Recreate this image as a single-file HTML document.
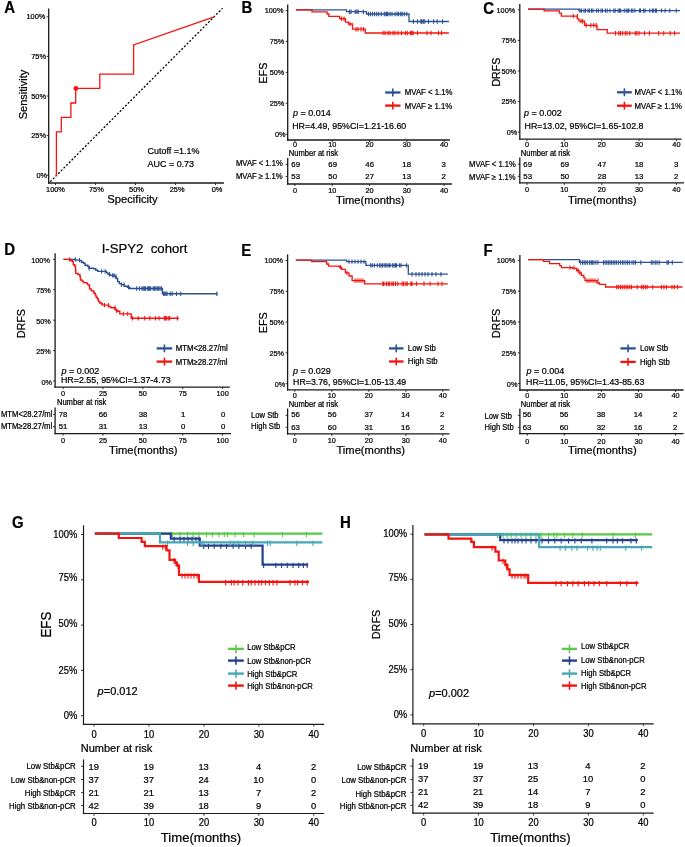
<!DOCTYPE html>
<html><head><meta charset="utf-8"><style>
html,body{margin:0;padding:0;background:#fff;width:685px;height:847px;overflow:hidden}
text{white-space:pre;stroke:#000;stroke-width:0.22px;paint-order:stroke}
svg{will-change:transform}
svg{display:block;font-family:"Liberation Sans",sans-serif}
</style></head><body>
<svg width="685" height="847" viewBox="0 0 685 847" font-family="Liberation Sans, sans-serif">
<rect width="685" height="847" fill="#fff"/>
<text transform="translate(4.30,12.57) scale(1,1.1)" font-size="15" text-anchor="start" font-weight="bold" fill="#000">A</text>
<line x1="48.70" y1="8.40" x2="48.70" y2="183.65" stroke="#1a1a1a" stroke-width="1.3"/>
<line x1="48.05" y1="183.00" x2="223.90" y2="183.00" stroke="#1a1a1a" stroke-width="1.3"/>
<line x1="46.70" y1="16.80" x2="48.70" y2="16.80" stroke="#1a1a1a" stroke-width="0.9"/>
<text transform="translate(45.40,19.37) scale(1,1.07)" font-size="7.4" text-anchor="end" fill="#000">100%</text>
<line x1="46.70" y1="56.40" x2="48.70" y2="56.40" stroke="#1a1a1a" stroke-width="0.9"/>
<text transform="translate(46.00,58.97) scale(1,1.07)" font-size="7.4" text-anchor="end" fill="#000">75%</text>
<line x1="46.70" y1="96.00" x2="48.70" y2="96.00" stroke="#1a1a1a" stroke-width="0.9"/>
<text transform="translate(46.00,98.57) scale(1,1.07)" font-size="7.4" text-anchor="end" fill="#000">50%</text>
<line x1="46.70" y1="135.60" x2="48.70" y2="135.60" stroke="#1a1a1a" stroke-width="0.9"/>
<text transform="translate(46.00,138.17) scale(1,1.07)" font-size="7.4" text-anchor="end" fill="#000">25%</text>
<line x1="46.70" y1="175.20" x2="48.70" y2="175.20" stroke="#1a1a1a" stroke-width="0.9"/>
<text transform="translate(47.20,177.77) scale(1,1.07)" font-size="7.4" text-anchor="end" fill="#000">0%</text>
<line x1="55.50" y1="183.00" x2="55.50" y2="185.00" stroke="#1a1a1a" stroke-width="0.9"/>
<text transform="translate(55.50,192.07) scale(1,1.07)" font-size="7.4" text-anchor="middle" fill="#000">100%</text>
<line x1="95.50" y1="183.00" x2="95.50" y2="185.00" stroke="#1a1a1a" stroke-width="0.9"/>
<text transform="translate(96.30,192.07) scale(1,1.07)" font-size="7.4" text-anchor="middle" fill="#000">75%</text>
<line x1="135.50" y1="183.00" x2="135.50" y2="185.00" stroke="#1a1a1a" stroke-width="0.9"/>
<text transform="translate(136.50,192.07) scale(1,1.07)" font-size="7.4" text-anchor="middle" fill="#000">50%</text>
<line x1="175.50" y1="183.00" x2="175.50" y2="185.00" stroke="#1a1a1a" stroke-width="0.9"/>
<text transform="translate(177.10,192.07) scale(1,1.07)" font-size="7.4" text-anchor="middle" fill="#000">25%</text>
<line x1="215.50" y1="183.00" x2="215.50" y2="185.00" stroke="#1a1a1a" stroke-width="0.9"/>
<text transform="translate(217.00,192.07) scale(1,1.07)" font-size="7.4" text-anchor="middle" fill="#000">0%</text>
<text transform="translate(132.50,203.22) scale(1,1.0)" font-size="11.2" text-anchor="middle" fill="#000">Specificity</text>
<text transform="translate(23.10,94.50) rotate(-90) scale(1,1.05)" x="0" y="3.85" font-size="11.0" text-anchor="middle" fill="#000">Sensitivity</text>
<line x1="50.2" y1="181.8" x2="222.5" y2="8.3" stroke="#000" stroke-width="1.3" stroke-dasharray="2 1.8"/>
<path d="M56.4,176 V131.9 H61.3 V117.3 H70.9 V103 H75.7 V88.4 H99.8 V74.2 H133.6 V45 L214.8,16.7" fill="none" stroke="#F2140F" stroke-width="1.3"/>
<circle cx="75.9" cy="88.5" r="2.4" fill="#F2140F"/>
<text transform="translate(147.60,154.15) scale(1,1.07)" font-size="8.95" text-anchor="start" fill="#000">Cutoff =1.1%</text>
<text transform="translate(147.60,167.15) scale(1,1.07)" font-size="8.95" text-anchor="start" fill="#000">AUC = 0.73</text>
<text transform="translate(241.40,12.78) scale(1,1.1)" font-size="15" text-anchor="start" font-weight="bold" fill="#000">B</text>
<line x1="287.70" y1="4.40" x2="287.70" y2="140.65" stroke="#1a1a1a" stroke-width="1.3"/>
<line x1="287.05" y1="140.00" x2="449.90" y2="140.00" stroke="#1a1a1a" stroke-width="1.3"/>
<line x1="285.70" y1="10.50" x2="287.70" y2="10.50" stroke="#1a1a1a" stroke-width="0.9"/>
<text transform="translate(283.40,13.43) scale(1,1.07)" font-size="7.3" text-anchor="end" fill="#000">100%</text>
<line x1="285.70" y1="41.42" x2="287.70" y2="41.42" stroke="#1a1a1a" stroke-width="0.9"/>
<text transform="translate(284.30,44.36) scale(1,1.07)" font-size="7.3" text-anchor="end" fill="#000">75%</text>
<line x1="285.70" y1="72.35" x2="287.70" y2="72.35" stroke="#1a1a1a" stroke-width="0.9"/>
<text transform="translate(284.30,75.28) scale(1,1.07)" font-size="7.3" text-anchor="end" fill="#000">50%</text>
<line x1="285.70" y1="103.27" x2="287.70" y2="103.27" stroke="#1a1a1a" stroke-width="0.9"/>
<text transform="translate(284.30,106.21) scale(1,1.07)" font-size="7.3" text-anchor="end" fill="#000">25%</text>
<line x1="285.70" y1="134.20" x2="287.70" y2="134.20" stroke="#1a1a1a" stroke-width="0.9"/>
<text transform="translate(285.50,137.13) scale(1,1.07)" font-size="7.3" text-anchor="end" fill="#000">0%</text>
<line x1="294.90" y1="140.00" x2="294.90" y2="142.00" stroke="#1a1a1a" stroke-width="0.9"/>
<text transform="translate(294.90,147.03) scale(1,1.07)" font-size="7.3" text-anchor="middle" fill="#000">0</text>
<line x1="332.20" y1="140.00" x2="332.20" y2="142.00" stroke="#1a1a1a" stroke-width="0.9"/>
<text transform="translate(332.20,147.03) scale(1,1.07)" font-size="7.3" text-anchor="middle" fill="#000">10</text>
<line x1="369.50" y1="140.00" x2="369.50" y2="142.00" stroke="#1a1a1a" stroke-width="0.9"/>
<text transform="translate(369.50,147.03) scale(1,1.07)" font-size="7.3" text-anchor="middle" fill="#000">20</text>
<line x1="406.80" y1="140.00" x2="406.80" y2="142.00" stroke="#1a1a1a" stroke-width="0.9"/>
<text transform="translate(406.80,147.03) scale(1,1.07)" font-size="7.3" text-anchor="middle" fill="#000">30</text>
<line x1="444.10" y1="140.00" x2="444.10" y2="142.00" stroke="#1a1a1a" stroke-width="0.9"/>
<text transform="translate(444.10,147.03) scale(1,1.07)" font-size="7.3" text-anchor="middle" fill="#000">40</text>
<text transform="translate(263.20,73.15) rotate(-90) scale(1,1.08)" x="0" y="3.78" font-size="10.8" text-anchor="middle" fill="#000">EFS</text>
<path d="M295.90,9.85 H346.60 V11.70 H366.50 V14.00 H409.00 V21.50 H448.90" fill="none" stroke="#2B5194" stroke-width="1.3" stroke-linejoin="miter" stroke-linecap="butt"/>
<path d="M349.60,9.50v4.40M351.10,9.50v4.40M355.20,9.50v4.40M356.80,9.50v4.40M358.30,9.50v4.40M363.40,9.50v4.40" stroke="#2B5194" stroke-width="1.1" fill="none"/>
<path d="M368.50,11.80v4.40M370.50,11.80v4.40M372.60,11.80v4.40M374.60,11.80v4.40M376.70,11.80v4.40M378.70,11.80v4.40M381.30,11.80v4.40M384.30,11.80v4.40M385.90,11.80v4.40M386.90,11.80v4.40M387.90,11.80v4.40M390.00,11.80v4.40M392.00,11.80v4.40M395.10,11.80v4.40M397.10,11.80v4.40M398.60,11.80v4.40M400.70,11.80v4.40M402.20,11.80v4.40M404.30,11.80v4.40M406.80,11.80v4.40" stroke="#2B5194" stroke-width="1.1" fill="none"/>
<path d="M413.40,19.30v4.40M417.50,19.30v4.40M420.80,19.30v4.40M421.90,19.30v4.40M423.40,19.30v4.40M424.80,19.30v4.40M428.50,19.30v4.40M433.60,19.30v4.40M437.20,19.30v4.40M442.50,19.30v4.40" stroke="#2B5194" stroke-width="1.1" fill="none"/>
<path d="M295.90,9.85 H312.00 V11.90 H327.10 V14.00 H328.90 V16.40 H339.60 V18.70 H345.50 V22.20 H348.40 V24.00 H352.50 V29.20 H365.30 V33.00 H448.90" fill="none" stroke="#F2140F" stroke-width="1.3" stroke-linejoin="miter" stroke-linecap="butt"/>
<path d="M341.50,16.50v4.40M344.00,16.50v4.40" stroke="#F2140F" stroke-width="1.1" fill="none"/>
<path d="M350.00,21.80v4.40" stroke="#F2140F" stroke-width="1.1" fill="none"/>
<path d="M356.00,27.00v4.40M358.00,27.00v4.40M361.00,27.00v4.40M363.50,27.00v4.40" stroke="#F2140F" stroke-width="1.1" fill="none"/>
<path d="M383.00,30.80v4.40M385.00,30.80v4.40M388.00,30.80v4.40M390.00,30.80v4.40M393.00,30.80v4.40M395.00,30.80v4.40M398.00,30.80v4.40M401.50,30.80v4.40M405.30,30.80v4.40M407.30,30.80v4.40M410.60,30.80v4.40M411.70,30.80v4.40M413.10,30.80v4.40M417.50,30.80v4.40M427.00,30.80v4.40M431.00,30.80v4.40M438.50,30.80v4.40M441.50,30.80v4.40" stroke="#F2140F" stroke-width="1.1" fill="none"/>
<line x1="385.10" y1="92.50" x2="400.50" y2="92.50" stroke="#2B5194" stroke-width="2.3"/>
<line x1="392.80" y1="88.60" x2="392.80" y2="96.40" stroke="#2B5194" stroke-width="1.6"/>
<text transform="translate(404.80,95.42) scale(1,1.07)" font-size="7.8" text-anchor="start" fill="#000">MVAF &lt; 1.1%</text>
<line x1="385.10" y1="105.60" x2="400.50" y2="105.60" stroke="#F2140F" stroke-width="2.3"/>
<line x1="392.80" y1="101.70" x2="392.80" y2="109.50" stroke="#F2140F" stroke-width="1.6"/>
<text transform="translate(404.80,108.52) scale(1,1.07)" font-size="7.8" text-anchor="start" fill="#000">MVAF ≥ 1.1%</text>
<text transform="translate(293.00,116.27) scale(1,1.07)" font-size="9.0"><tspan font-style="italic">p</tspan> = 0.014</text>
<text transform="translate(292.20,128.71) scale(1,1.07)" font-size="8.85" text-anchor="start" fill="#000">HR=4.49, 95%CI=1.21-16.60</text>
<text transform="translate(288.80,156.15) scale(1,1.07)" font-size="7.6" text-anchor="start" fill="#000">Number at risk</text>
<line x1="287.70" y1="158.10" x2="287.70" y2="184.65" stroke="#1a1a1a" stroke-width="1.3"/>
<line x1="287.05" y1="184.00" x2="451.90" y2="184.00" stroke="#1a1a1a" stroke-width="1.3"/>
<line x1="285.70" y1="164.40" x2="287.70" y2="164.40" stroke="#1a1a1a" stroke-width="0.9"/>
<text transform="translate(236.00,166.26) scale(1,1.07)" font-size="7.65" text-anchor="start" fill="#000">MVAF &lt; 1.1%</text>
<text transform="translate(295.70,167.23) scale(1,1.0)" font-size="7.8" text-anchor="middle" fill="#000">69</text>
<text transform="translate(332.70,167.23) scale(1,1.0)" font-size="7.8" text-anchor="middle" fill="#000">69</text>
<text transform="translate(369.70,167.23) scale(1,1.0)" font-size="7.8" text-anchor="middle" fill="#000">46</text>
<text transform="translate(406.70,167.23) scale(1,1.0)" font-size="7.8" text-anchor="middle" fill="#000">18</text>
<text transform="translate(443.70,167.23) scale(1,1.0)" font-size="7.8" text-anchor="middle" fill="#000">3</text>
<line x1="285.70" y1="176.50" x2="287.70" y2="176.50" stroke="#1a1a1a" stroke-width="0.9"/>
<text transform="translate(236.00,178.96) scale(1,1.07)" font-size="7.65" text-anchor="start" fill="#000">MVAF ≥ 1.1%</text>
<text transform="translate(295.70,179.33) scale(1,1.0)" font-size="7.8" text-anchor="middle" fill="#000">53</text>
<text transform="translate(332.70,179.33) scale(1,1.0)" font-size="7.8" text-anchor="middle" fill="#000">50</text>
<text transform="translate(369.70,179.33) scale(1,1.0)" font-size="7.8" text-anchor="middle" fill="#000">27</text>
<text transform="translate(406.70,179.33) scale(1,1.0)" font-size="7.8" text-anchor="middle" fill="#000">13</text>
<text transform="translate(443.70,179.33) scale(1,1.0)" font-size="7.8" text-anchor="middle" fill="#000">2</text>
<line x1="294.90" y1="184.00" x2="294.90" y2="186.00" stroke="#1a1a1a" stroke-width="0.9"/>
<text transform="translate(294.90,193.33) scale(1,1.07)" font-size="7.3" text-anchor="middle" fill="#000">0</text>
<line x1="332.20" y1="184.00" x2="332.20" y2="186.00" stroke="#1a1a1a" stroke-width="0.9"/>
<text transform="translate(332.20,193.33) scale(1,1.07)" font-size="7.3" text-anchor="middle" fill="#000">10</text>
<line x1="369.50" y1="184.00" x2="369.50" y2="186.00" stroke="#1a1a1a" stroke-width="0.9"/>
<text transform="translate(369.50,193.33) scale(1,1.07)" font-size="7.3" text-anchor="middle" fill="#000">20</text>
<line x1="406.80" y1="184.00" x2="406.80" y2="186.00" stroke="#1a1a1a" stroke-width="0.9"/>
<text transform="translate(406.80,193.33) scale(1,1.07)" font-size="7.3" text-anchor="middle" fill="#000">30</text>
<line x1="444.10" y1="184.00" x2="444.10" y2="186.00" stroke="#1a1a1a" stroke-width="0.9"/>
<text transform="translate(444.10,193.33) scale(1,1.07)" font-size="7.3" text-anchor="middle" fill="#000">40</text>
<text transform="translate(370.30,203.82) scale(1,1.0)" font-size="11.2" text-anchor="middle" fill="#000">Time(months)</text>
<text transform="translate(483.30,13.62) scale(1,1.1)" font-size="15" text-anchor="start" font-weight="bold" fill="#000">C</text>
<line x1="519.80" y1="4.00" x2="519.80" y2="139.85" stroke="#1a1a1a" stroke-width="1.3"/>
<line x1="519.15" y1="139.20" x2="681.60" y2="139.20" stroke="#1a1a1a" stroke-width="1.3"/>
<line x1="517.80" y1="9.85" x2="519.80" y2="9.85" stroke="#1a1a1a" stroke-width="0.9"/>
<text transform="translate(515.20,12.78) scale(1,1.07)" font-size="7.3" text-anchor="end" fill="#000">100%</text>
<line x1="517.80" y1="40.41" x2="519.80" y2="40.41" stroke="#1a1a1a" stroke-width="0.9"/>
<text transform="translate(516.10,43.35) scale(1,1.07)" font-size="7.3" text-anchor="end" fill="#000">75%</text>
<line x1="517.80" y1="70.97" x2="519.80" y2="70.97" stroke="#1a1a1a" stroke-width="0.9"/>
<text transform="translate(516.10,73.91) scale(1,1.07)" font-size="7.3" text-anchor="end" fill="#000">50%</text>
<line x1="517.80" y1="101.54" x2="519.80" y2="101.54" stroke="#1a1a1a" stroke-width="0.9"/>
<text transform="translate(516.10,104.47) scale(1,1.07)" font-size="7.3" text-anchor="end" fill="#000">25%</text>
<line x1="517.80" y1="132.10" x2="519.80" y2="132.10" stroke="#1a1a1a" stroke-width="0.9"/>
<text transform="translate(517.30,135.03) scale(1,1.07)" font-size="7.3" text-anchor="end" fill="#000">0%</text>
<line x1="527.00" y1="139.20" x2="527.00" y2="141.20" stroke="#1a1a1a" stroke-width="0.9"/>
<text transform="translate(527.00,147.03) scale(1,1.07)" font-size="7.3" text-anchor="middle" fill="#000">0</text>
<line x1="564.35" y1="139.20" x2="564.35" y2="141.20" stroke="#1a1a1a" stroke-width="0.9"/>
<text transform="translate(564.35,147.03) scale(1,1.07)" font-size="7.3" text-anchor="middle" fill="#000">10</text>
<line x1="601.70" y1="139.20" x2="601.70" y2="141.20" stroke="#1a1a1a" stroke-width="0.9"/>
<text transform="translate(601.70,147.03) scale(1,1.07)" font-size="7.3" text-anchor="middle" fill="#000">20</text>
<line x1="639.05" y1="139.20" x2="639.05" y2="141.20" stroke="#1a1a1a" stroke-width="0.9"/>
<text transform="translate(639.05,147.03) scale(1,1.07)" font-size="7.3" text-anchor="middle" fill="#000">30</text>
<line x1="676.40" y1="139.20" x2="676.40" y2="141.20" stroke="#1a1a1a" stroke-width="0.9"/>
<text transform="translate(676.40,147.03) scale(1,1.07)" font-size="7.3" text-anchor="middle" fill="#000">40</text>
<text transform="translate(495.70,72.17) rotate(-90) scale(1,1.08)" x="0" y="3.71" font-size="10.6" text-anchor="middle" fill="#000">DRFS</text>
<path d="M528.00,9.20 H579.00 V10.60 H680.00" fill="none" stroke="#2B5194" stroke-width="1.3" stroke-linejoin="miter" stroke-linecap="butt"/>
<path d="M580.00,8.40v4.40M581.50,8.40v4.40M584.00,8.40v4.40M585.50,8.40v4.40M588.00,8.40v4.40M589.50,8.40v4.40M591.50,8.40v4.40M593.00,8.40v4.40M596.60,8.40v4.40M598.40,8.40v4.40M601.00,8.40v4.40M602.50,8.40v4.40M605.40,8.40v4.40M607.20,8.40v4.40M610.00,8.40v4.40M613.80,8.40v4.40M615.20,8.40v4.40M618.10,8.40v4.40M619.60,8.40v4.40M620.60,8.40v4.40M624.20,8.40v4.40M626.20,8.40v4.40M627.80,8.40v4.40M628.80,8.40v4.40M631.40,8.40v4.40M632.90,8.40v4.40M634.90,8.40v4.40M639.50,8.40v4.40M640.50,8.40v4.40M643.60,8.40v4.40M645.10,8.40v4.40M649.70,8.40v4.40M652.30,8.40v4.40M653.30,8.40v4.40M655.40,8.40v4.40M656.40,8.40v4.40M661.50,8.40v4.40M665.10,8.40v4.40M669.70,8.40v4.40M676.30,8.40v4.40" stroke="#2B5194" stroke-width="1.1" fill="none"/>
<path d="M528.00,9.20 H544.10 V10.80 H559.30 V13.20 H561.40 V16.10 H577.30 V18.80 H579.00 V21.20 H584.50 V25.30 H597.00 V29.60 H607.20 V33.20 H680.00" fill="none" stroke="#F2140F" stroke-width="1.3" stroke-linejoin="miter" stroke-linecap="butt"/>
<path d="M573.30,13.90v4.40M577.40,13.90v4.40" stroke="#F2140F" stroke-width="1.1" fill="none"/>
<path d="M581.00,19.00v4.40M582.60,19.00v4.40" stroke="#F2140F" stroke-width="1.1" fill="none"/>
<path d="M586.10,23.10v4.40M590.80,23.10v4.40M593.70,23.10v4.40M596.10,23.10v4.40" stroke="#F2140F" stroke-width="1.1" fill="none"/>
<path d="M615.50,31.00v4.40M618.80,31.00v4.40M620.40,31.00v4.40M622.60,31.00v4.40M625.30,31.00v4.40M627.00,31.00v4.40M629.70,31.00v4.40M635.20,31.00v4.40M636.80,31.00v4.40M639.00,31.00v4.40M644.50,31.00v4.40M649.40,31.00v4.40M658.70,31.00v4.40M663.70,31.00v4.40M670.20,31.00v4.40M674.60,31.00v4.40" stroke="#F2140F" stroke-width="1.1" fill="none"/>
<line x1="617.00" y1="92.30" x2="631.80" y2="92.30" stroke="#2B5194" stroke-width="2.3"/>
<line x1="624.40" y1="88.40" x2="624.40" y2="96.20" stroke="#2B5194" stroke-width="1.6"/>
<text transform="translate(634.60,95.22) scale(1,1.07)" font-size="7.8" text-anchor="start" fill="#000">MVAF &lt; 1.1%</text>
<line x1="617.00" y1="105.70" x2="631.80" y2="105.70" stroke="#F2140F" stroke-width="2.3"/>
<line x1="624.40" y1="101.80" x2="624.40" y2="109.60" stroke="#F2140F" stroke-width="1.6"/>
<text transform="translate(634.60,108.62) scale(1,1.07)" font-size="7.8" text-anchor="start" fill="#000">MVAF ≥ 1.1%</text>
<text transform="translate(524.00,116.37) scale(1,1.07)" font-size="9.0"><tspan font-style="italic">p</tspan> = 0.002</text>
<text transform="translate(524.50,129.41) scale(1,1.07)" font-size="8.85" text-anchor="start" fill="#000">HR=13.02, 95%CI=1.65-102.8</text>
<text transform="translate(520.80,155.55) scale(1,1.07)" font-size="7.6" text-anchor="start" fill="#000">Number at risk</text>
<line x1="519.80" y1="157.40" x2="519.80" y2="183.55" stroke="#1a1a1a" stroke-width="1.3"/>
<line x1="519.15" y1="182.90" x2="684.00" y2="182.90" stroke="#1a1a1a" stroke-width="1.3"/>
<line x1="517.80" y1="164.20" x2="519.80" y2="164.20" stroke="#1a1a1a" stroke-width="0.9"/>
<text transform="translate(469.10,167.06) scale(1,1.07)" font-size="7.65" text-anchor="start" fill="#000">MVAF &lt; 1.1%</text>
<text transform="translate(527.70,166.73) scale(1,1.0)" font-size="7.8" text-anchor="middle" fill="#000">69</text>
<text transform="translate(564.80,166.73) scale(1,1.0)" font-size="7.8" text-anchor="middle" fill="#000">69</text>
<text transform="translate(601.90,166.73) scale(1,1.0)" font-size="7.8" text-anchor="middle" fill="#000">47</text>
<text transform="translate(639.00,166.73) scale(1,1.0)" font-size="7.8" text-anchor="middle" fill="#000">18</text>
<text transform="translate(676.10,166.73) scale(1,1.0)" font-size="7.8" text-anchor="middle" fill="#000">3</text>
<line x1="517.80" y1="176.30" x2="519.80" y2="176.30" stroke="#1a1a1a" stroke-width="0.9"/>
<text transform="translate(469.10,179.86) scale(1,1.07)" font-size="7.65" text-anchor="start" fill="#000">MVAF ≥ 1.1%</text>
<text transform="translate(527.70,178.73) scale(1,1.0)" font-size="7.8" text-anchor="middle" fill="#000">53</text>
<text transform="translate(564.80,178.73) scale(1,1.0)" font-size="7.8" text-anchor="middle" fill="#000">50</text>
<text transform="translate(601.90,178.73) scale(1,1.0)" font-size="7.8" text-anchor="middle" fill="#000">28</text>
<text transform="translate(639.00,178.73) scale(1,1.0)" font-size="7.8" text-anchor="middle" fill="#000">13</text>
<text transform="translate(676.10,178.73) scale(1,1.0)" font-size="7.8" text-anchor="middle" fill="#000">2</text>
<line x1="527.00" y1="182.90" x2="527.00" y2="184.90" stroke="#1a1a1a" stroke-width="0.9"/>
<text transform="translate(527.00,191.93) scale(1,1.07)" font-size="7.3" text-anchor="middle" fill="#000">0</text>
<line x1="564.35" y1="182.90" x2="564.35" y2="184.90" stroke="#1a1a1a" stroke-width="0.9"/>
<text transform="translate(564.35,191.93) scale(1,1.07)" font-size="7.3" text-anchor="middle" fill="#000">10</text>
<line x1="601.70" y1="182.90" x2="601.70" y2="184.90" stroke="#1a1a1a" stroke-width="0.9"/>
<text transform="translate(601.70,191.93) scale(1,1.07)" font-size="7.3" text-anchor="middle" fill="#000">20</text>
<line x1="639.05" y1="182.90" x2="639.05" y2="184.90" stroke="#1a1a1a" stroke-width="0.9"/>
<text transform="translate(639.05,191.93) scale(1,1.07)" font-size="7.3" text-anchor="middle" fill="#000">30</text>
<line x1="676.40" y1="182.90" x2="676.40" y2="184.90" stroke="#1a1a1a" stroke-width="0.9"/>
<text transform="translate(676.40,191.93) scale(1,1.07)" font-size="7.3" text-anchor="middle" fill="#000">40</text>
<text transform="translate(602.30,203.82) scale(1,1.0)" font-size="11.2" text-anchor="middle" fill="#000">Time(months)</text>
<text transform="translate(4.30,255.47) scale(1,1.1)" font-size="15" text-anchor="start" font-weight="bold" fill="#000">D</text>
<line x1="55.10" y1="253.30" x2="55.10" y2="387.75" stroke="#1a1a1a" stroke-width="1.3"/>
<line x1="54.45" y1="387.10" x2="229.80" y2="387.10" stroke="#1a1a1a" stroke-width="1.3"/>
<line x1="53.10" y1="259.30" x2="55.10" y2="259.30" stroke="#1a1a1a" stroke-width="0.9"/>
<text transform="translate(49.90,263.03) scale(1,1.07)" font-size="7.3" text-anchor="end" fill="#000">100%</text>
<line x1="53.10" y1="289.73" x2="55.10" y2="289.73" stroke="#1a1a1a" stroke-width="0.9"/>
<text transform="translate(50.80,293.46) scale(1,1.07)" font-size="7.3" text-anchor="end" fill="#000">75%</text>
<line x1="53.10" y1="320.15" x2="55.10" y2="320.15" stroke="#1a1a1a" stroke-width="0.9"/>
<text transform="translate(50.80,323.88) scale(1,1.07)" font-size="7.3" text-anchor="end" fill="#000">50%</text>
<line x1="53.10" y1="350.57" x2="55.10" y2="350.57" stroke="#1a1a1a" stroke-width="0.9"/>
<text transform="translate(50.80,354.31) scale(1,1.07)" font-size="7.3" text-anchor="end" fill="#000">25%</text>
<line x1="53.10" y1="381.00" x2="55.10" y2="381.00" stroke="#1a1a1a" stroke-width="0.9"/>
<text transform="translate(52.00,384.73) scale(1,1.07)" font-size="7.3" text-anchor="end" fill="#000">0%</text>
<line x1="63.10" y1="387.10" x2="63.10" y2="389.10" stroke="#1a1a1a" stroke-width="0.9"/>
<text transform="translate(63.10,396.13) scale(1,1.07)" font-size="7.3" text-anchor="middle" fill="#000">0</text>
<line x1="102.97" y1="387.10" x2="102.97" y2="389.10" stroke="#1a1a1a" stroke-width="0.9"/>
<text transform="translate(102.97,396.13) scale(1,1.07)" font-size="7.3" text-anchor="middle" fill="#000">25</text>
<line x1="142.85" y1="387.10" x2="142.85" y2="389.10" stroke="#1a1a1a" stroke-width="0.9"/>
<text transform="translate(142.85,396.13) scale(1,1.07)" font-size="7.3" text-anchor="middle" fill="#000">50</text>
<line x1="182.72" y1="387.10" x2="182.72" y2="389.10" stroke="#1a1a1a" stroke-width="0.9"/>
<text transform="translate(182.72,396.13) scale(1,1.07)" font-size="7.3" text-anchor="middle" fill="#000">75</text>
<line x1="222.60" y1="387.10" x2="222.60" y2="389.10" stroke="#1a1a1a" stroke-width="0.9"/>
<text transform="translate(222.60,396.13) scale(1,1.07)" font-size="7.3" text-anchor="middle" fill="#000">100</text>
<text transform="translate(21.00,323.65) rotate(-90) scale(1,1.08)" x="0" y="3.78" font-size="10.8" text-anchor="middle" fill="#000">DRFS</text>
<path d="M63.50,259.40 H75.50 V260.10 H79.90 V260.60 H81.50 V262.20 H83.50 V263.20 H85.00 V265.20 H87.60 V266.20 H89.10 V268.30 H93.70 V268.80 H95.80 V270.30 H97.80 V271.40 H106.50 V272.90 H108.00 V274.40 H110.10 V275.40 H114.20 V276.50 H116.20 V278.50 H117.70 V281.60 H119.30 V283.60 H121.30 V284.60 H124.40 V286.20 H127.40 V287.20 H129.70 V288.50 H162.40 V293.80 H217.50" fill="none" stroke="#2B5194" stroke-width="1.4" stroke-linejoin="miter" stroke-linecap="butt"/>
<path d="M75.30,257.20v4.40" stroke="#2B5194" stroke-width="1.1" fill="none"/>
<path d="M79.50,257.90v4.40" stroke="#2B5194" stroke-width="1.1" fill="none"/>
<path d="M89.10,266.10v4.40" stroke="#2B5194" stroke-width="1.1" fill="none"/>
<path d="M101.60,269.20v4.40" stroke="#2B5194" stroke-width="1.1" fill="none"/>
<path d="M105.20,269.20v4.40" stroke="#2B5194" stroke-width="1.1" fill="none"/>
<path d="M109.50,272.20v4.40" stroke="#2B5194" stroke-width="1.1" fill="none"/>
<path d="M112.40,273.20v4.40" stroke="#2B5194" stroke-width="1.1" fill="none"/>
<path d="M114.00,273.20v4.40" stroke="#2B5194" stroke-width="1.1" fill="none"/>
<path d="M115.90,274.30v4.40" stroke="#2B5194" stroke-width="1.1" fill="none"/>
<path d="M121.50,282.40v4.40" stroke="#2B5194" stroke-width="1.1" fill="none"/>
<path d="M124.00,282.40v4.40" stroke="#2B5194" stroke-width="1.1" fill="none"/>
<path d="M128.50,285.00v4.40" stroke="#2B5194" stroke-width="1.1" fill="none"/>
<path d="M136.70,286.30v4.40" stroke="#2B5194" stroke-width="1.1" fill="none"/>
<path d="M139.50,286.30v4.40" stroke="#2B5194" stroke-width="1.1" fill="none"/>
<path d="M142.00,286.30v4.40" stroke="#2B5194" stroke-width="1.1" fill="none"/>
<path d="M143.20,286.30v4.40" stroke="#2B5194" stroke-width="1.1" fill="none"/>
<path d="M144.40,286.30v4.40" stroke="#2B5194" stroke-width="1.1" fill="none"/>
<path d="M145.30,286.30v4.40" stroke="#2B5194" stroke-width="1.1" fill="none"/>
<path d="M147.30,286.30v4.40" stroke="#2B5194" stroke-width="1.1" fill="none"/>
<path d="M148.50,286.30v4.40" stroke="#2B5194" stroke-width="1.1" fill="none"/>
<path d="M149.60,286.30v4.40" stroke="#2B5194" stroke-width="1.1" fill="none"/>
<path d="M150.70,286.30v4.40" stroke="#2B5194" stroke-width="1.1" fill="none"/>
<path d="M153.20,286.30v4.40" stroke="#2B5194" stroke-width="1.1" fill="none"/>
<path d="M154.50,286.30v4.40" stroke="#2B5194" stroke-width="1.1" fill="none"/>
<path d="M155.80,286.30v4.40" stroke="#2B5194" stroke-width="1.1" fill="none"/>
<path d="M157.30,286.30v4.40" stroke="#2B5194" stroke-width="1.1" fill="none"/>
<path d="M158.60,286.30v4.40" stroke="#2B5194" stroke-width="1.1" fill="none"/>
<path d="M160.00,286.30v4.40" stroke="#2B5194" stroke-width="1.1" fill="none"/>
<path d="M161.40,286.30v4.40" stroke="#2B5194" stroke-width="1.1" fill="none"/>
<path d="M163.60,291.60v4.40" stroke="#2B5194" stroke-width="1.1" fill="none"/>
<path d="M164.80,291.60v4.40" stroke="#2B5194" stroke-width="1.1" fill="none"/>
<path d="M166.00,291.60v4.40" stroke="#2B5194" stroke-width="1.1" fill="none"/>
<path d="M167.00,291.60v4.40" stroke="#2B5194" stroke-width="1.1" fill="none"/>
<path d="M170.20,291.60v4.40" stroke="#2B5194" stroke-width="1.1" fill="none"/>
<path d="M172.20,291.60v4.40" stroke="#2B5194" stroke-width="1.1" fill="none"/>
<path d="M176.50,291.60v4.40" stroke="#2B5194" stroke-width="1.1" fill="none"/>
<path d="M180.70,291.60v4.40" stroke="#2B5194" stroke-width="1.1" fill="none"/>
<path d="M216.90,291.60v4.40" stroke="#2B5194" stroke-width="1.1" fill="none"/>
<path d="M63.50,259.40 H69.90 V260.60 H72.30 V261.50 H73.30 V264.70 H74.80 V266.20 H75.50 V270.00 H75.80 V273.40 H77.90 V274.50 H79.90 V276.50 H80.40 V280.00 H82.00 V281.10 H83.50 V282.60 H86.60 V283.10 H87.60 V284.60 H89.10 V285.70 H89.60 V288.90 H91.30 V290.70 H93.10 V291.10 H93.90 V293.30 H95.30 V295.10 H96.10 V297.30 H97.40 V299.00 H98.30 V301.20 H99.60 V303.00 H101.40 V303.80 H102.30 V305.10 H108.90 V306.90 H111.00 V307.80 H115.20 V309.50 H116.30 V310.80 H118.00 V311.30 H119.80 V313.90 H131.20 V318.30 H178.80" fill="none" stroke="#F2140F" stroke-width="1.4" stroke-linejoin="miter" stroke-linecap="butt"/>
<path d="M69.80,257.20v4.40" stroke="#F2140F" stroke-width="1.1" fill="none"/>
<path d="M104.50,302.90v4.40" stroke="#F2140F" stroke-width="1.1" fill="none"/>
<path d="M108.40,302.90v4.40" stroke="#F2140F" stroke-width="1.1" fill="none"/>
<path d="M115.00,305.60v4.40" stroke="#F2140F" stroke-width="1.1" fill="none"/>
<path d="M116.70,308.60v4.40" stroke="#F2140F" stroke-width="1.1" fill="none"/>
<path d="M123.30,311.70v4.40" stroke="#F2140F" stroke-width="1.1" fill="none"/>
<path d="M127.70,311.70v4.40" stroke="#F2140F" stroke-width="1.1" fill="none"/>
<path d="M132.50,316.10v4.40" stroke="#F2140F" stroke-width="1.1" fill="none"/>
<path d="M138.20,316.10v4.40" stroke="#F2140F" stroke-width="1.1" fill="none"/>
<path d="M144.70,316.10v4.40" stroke="#F2140F" stroke-width="1.1" fill="none"/>
<path d="M149.90,316.10v4.40" stroke="#F2140F" stroke-width="1.1" fill="none"/>
<path d="M155.50,316.10v4.40" stroke="#F2140F" stroke-width="1.1" fill="none"/>
<path d="M159.00,316.10v4.40" stroke="#F2140F" stroke-width="1.1" fill="none"/>
<path d="M164.30,316.10v4.40" stroke="#F2140F" stroke-width="1.1" fill="none"/>
<path d="M165.30,316.10v4.40" stroke="#F2140F" stroke-width="1.1" fill="none"/>
<path d="M166.30,316.10v4.40" stroke="#F2140F" stroke-width="1.1" fill="none"/>
<path d="M168.20,316.10v4.40" stroke="#F2140F" stroke-width="1.1" fill="none"/>
<path d="M169.60,316.10v4.40" stroke="#F2140F" stroke-width="1.1" fill="none"/>
<path d="M177.40,316.10v4.40" stroke="#F2140F" stroke-width="1.1" fill="none"/>
<line x1="156.60" y1="348.40" x2="172.20" y2="348.40" stroke="#2B5194" stroke-width="2.3"/>
<line x1="164.40" y1="344.50" x2="164.40" y2="352.30" stroke="#2B5194" stroke-width="1.6"/>
<text transform="translate(175.70,351.32) scale(1,1.07)" font-size="7.8" text-anchor="start" fill="#000">MTM&lt;28.27/ml</text>
<line x1="156.60" y1="361.60" x2="172.20" y2="361.60" stroke="#F2140F" stroke-width="2.3"/>
<line x1="164.40" y1="357.70" x2="164.40" y2="365.50" stroke="#F2140F" stroke-width="1.6"/>
<text transform="translate(175.70,364.52) scale(1,1.07)" font-size="7.8" text-anchor="start" fill="#000">MTM≥28.27/ml</text>
<text transform="translate(61.50,373.87) scale(1,1.07)" font-size="9.0"><tspan font-style="italic">p</tspan> = 0.002</text>
<text transform="translate(60.90,383.23) scale(1,1.07)" font-size="8.9" text-anchor="start" fill="#000">HR=2.55, 95%CI=1.37-4.73</text>
<text transform="translate(56.90,405.25) scale(1,1.07)" font-size="7.6" text-anchor="start" fill="#000">Number at risk</text>
<line x1="55.10" y1="407.60" x2="55.10" y2="434.25" stroke="#1a1a1a" stroke-width="1.3"/>
<line x1="54.45" y1="433.60" x2="231.00" y2="433.60" stroke="#1a1a1a" stroke-width="1.3"/>
<line x1="53.10" y1="414.40" x2="55.10" y2="414.40" stroke="#1a1a1a" stroke-width="0.9"/>
<text transform="translate(0.90,416.98) scale(1,1.07)" font-size="7.7" text-anchor="start" fill="#000">MTM&lt;28.27/ml</text>
<text transform="translate(63.10,416.63) scale(1,1.0)" font-size="7.8" text-anchor="middle" fill="#000">78</text>
<text transform="translate(103.10,416.63) scale(1,1.0)" font-size="7.8" text-anchor="middle" fill="#000">66</text>
<text transform="translate(143.10,416.63) scale(1,1.0)" font-size="7.8" text-anchor="middle" fill="#000">38</text>
<text transform="translate(183.10,416.63) scale(1,1.0)" font-size="7.8" text-anchor="middle" fill="#000">1</text>
<text transform="translate(223.10,416.63) scale(1,1.0)" font-size="7.8" text-anchor="middle" fill="#000">0</text>
<line x1="53.10" y1="426.70" x2="55.10" y2="426.70" stroke="#1a1a1a" stroke-width="0.9"/>
<text transform="translate(0.90,428.88) scale(1,1.07)" font-size="7.7" text-anchor="start" fill="#000">MTM≥28.27/ml</text>
<text transform="translate(63.10,428.93) scale(1,1.0)" font-size="7.8" text-anchor="middle" fill="#000">51</text>
<text transform="translate(103.10,428.93) scale(1,1.0)" font-size="7.8" text-anchor="middle" fill="#000">31</text>
<text transform="translate(143.10,428.93) scale(1,1.0)" font-size="7.8" text-anchor="middle" fill="#000">13</text>
<text transform="translate(183.10,428.93) scale(1,1.0)" font-size="7.8" text-anchor="middle" fill="#000">0</text>
<text transform="translate(223.10,428.93) scale(1,1.0)" font-size="7.8" text-anchor="middle" fill="#000">0</text>
<line x1="63.10" y1="433.60" x2="63.10" y2="435.60" stroke="#1a1a1a" stroke-width="0.9"/>
<text transform="translate(63.10,443.33) scale(1,1.07)" font-size="7.3" text-anchor="middle" fill="#000">0</text>
<line x1="102.97" y1="433.60" x2="102.97" y2="435.60" stroke="#1a1a1a" stroke-width="0.9"/>
<text transform="translate(102.97,443.33) scale(1,1.07)" font-size="7.3" text-anchor="middle" fill="#000">25</text>
<line x1="142.85" y1="433.60" x2="142.85" y2="435.60" stroke="#1a1a1a" stroke-width="0.9"/>
<text transform="translate(142.85,443.33) scale(1,1.07)" font-size="7.3" text-anchor="middle" fill="#000">50</text>
<line x1="182.72" y1="433.60" x2="182.72" y2="435.60" stroke="#1a1a1a" stroke-width="0.9"/>
<text transform="translate(182.72,443.33) scale(1,1.07)" font-size="7.3" text-anchor="middle" fill="#000">75</text>
<line x1="222.60" y1="433.60" x2="222.60" y2="435.60" stroke="#1a1a1a" stroke-width="0.9"/>
<text transform="translate(222.60,443.33) scale(1,1.07)" font-size="7.3" text-anchor="middle" fill="#000">100</text>
<text transform="translate(143.30,454.22) scale(1,1.0)" font-size="11.2" text-anchor="middle" fill="#000">Time(months)</text>
<text transform="translate(144.50,253.22) scale(1,1.0)" font-size="13.2" text-anchor="middle" fill="#000">I-SPY2  cohort</text>
<text transform="translate(241.30,255.53) scale(1,1.1)" font-size="15" text-anchor="start" font-weight="bold" fill="#000">E</text>
<line x1="287.60" y1="254.40" x2="287.60" y2="390.45" stroke="#1a1a1a" stroke-width="1.3"/>
<line x1="286.95" y1="389.80" x2="449.50" y2="389.80" stroke="#1a1a1a" stroke-width="1.3"/>
<line x1="285.60" y1="260.50" x2="287.60" y2="260.50" stroke="#1a1a1a" stroke-width="0.9"/>
<text transform="translate(283.10,263.43) scale(1,1.07)" font-size="7.3" text-anchor="end" fill="#000">100%</text>
<line x1="285.60" y1="291.30" x2="287.60" y2="291.30" stroke="#1a1a1a" stroke-width="0.9"/>
<text transform="translate(284.00,294.23) scale(1,1.07)" font-size="7.3" text-anchor="end" fill="#000">75%</text>
<line x1="285.60" y1="322.10" x2="287.60" y2="322.10" stroke="#1a1a1a" stroke-width="0.9"/>
<text transform="translate(284.00,325.03) scale(1,1.07)" font-size="7.3" text-anchor="end" fill="#000">50%</text>
<line x1="285.60" y1="352.90" x2="287.60" y2="352.90" stroke="#1a1a1a" stroke-width="0.9"/>
<text transform="translate(284.00,355.83) scale(1,1.07)" font-size="7.3" text-anchor="end" fill="#000">25%</text>
<line x1="285.60" y1="383.70" x2="287.60" y2="383.70" stroke="#1a1a1a" stroke-width="0.9"/>
<text transform="translate(285.20,386.63) scale(1,1.07)" font-size="7.3" text-anchor="end" fill="#000">0%</text>
<line x1="294.80" y1="389.80" x2="294.80" y2="391.80" stroke="#1a1a1a" stroke-width="0.9"/>
<text transform="translate(294.80,397.73) scale(1,1.07)" font-size="7.3" text-anchor="middle" fill="#000">0</text>
<line x1="331.80" y1="389.80" x2="331.80" y2="391.80" stroke="#1a1a1a" stroke-width="0.9"/>
<text transform="translate(331.80,397.73) scale(1,1.07)" font-size="7.3" text-anchor="middle" fill="#000">10</text>
<line x1="368.80" y1="389.80" x2="368.80" y2="391.80" stroke="#1a1a1a" stroke-width="0.9"/>
<text transform="translate(368.80,397.73) scale(1,1.07)" font-size="7.3" text-anchor="middle" fill="#000">20</text>
<line x1="405.80" y1="389.80" x2="405.80" y2="391.80" stroke="#1a1a1a" stroke-width="0.9"/>
<text transform="translate(405.80,397.73) scale(1,1.07)" font-size="7.3" text-anchor="middle" fill="#000">30</text>
<line x1="442.80" y1="389.80" x2="442.80" y2="391.80" stroke="#1a1a1a" stroke-width="0.9"/>
<text transform="translate(442.80,397.73) scale(1,1.07)" font-size="7.3" text-anchor="middle" fill="#000">40</text>
<text transform="translate(263.20,322.70) rotate(-90) scale(1,1.08)" x="0" y="3.78" font-size="10.8" text-anchor="middle" fill="#000">EFS</text>
<path d="M295.80,260.10 H346.60 V261.60 H365.90 V265.40 H408.30 V274.20 H447.80" fill="none" stroke="#2B5194" stroke-width="1.3" stroke-linejoin="miter" stroke-linecap="butt"/>
<path d="M349.00,259.40v4.40M352.00,259.40v4.40M355.00,259.40v4.40M358.00,259.40v4.40M361.00,259.40v4.40M364.00,259.40v4.40" stroke="#2B5194" stroke-width="1.1" fill="none"/>
<path d="M370.70,263.20v4.40M372.20,263.20v4.40M374.40,263.20v4.40M377.30,263.20v4.40M379.50,263.20v4.40M381.00,263.20v4.40M382.40,263.20v4.40M384.20,263.20v4.40M385.70,263.20v4.40M387.20,263.20v4.40M389.00,263.20v4.40M390.10,263.20v4.40M392.60,263.20v4.40M394.10,263.20v4.40M395.50,263.20v4.40M396.60,263.20v4.40M399.60,263.20v4.40M401.00,263.20v4.40M406.50,263.20v4.40" stroke="#2B5194" stroke-width="1.1" fill="none"/>
<path d="M412.00,272.00v4.40M416.00,272.00v4.40M419.00,272.00v4.40M422.00,272.00v4.40M425.00,272.00v4.40M428.00,272.00v4.40M432.00,272.00v4.40M436.00,272.00v4.40M441.00,272.00v4.40" stroke="#2B5194" stroke-width="1.1" fill="none"/>
<path d="M295.80,260.10 H311.70 V261.60 H326.60 V264.00 H328.50 V266.10 H339.40 V267.30 H341.80 V269.30 H345.40 V272.90 H349.00 V276.00 H352.10 V280.60 H364.70 V283.80 H447.80" fill="none" stroke="#F2140F" stroke-width="1.3" stroke-linejoin="miter" stroke-linecap="butt"/>
<path d="M340.50,265.10v4.40" stroke="#F2140F" stroke-width="1.1" fill="none"/>
<path d="M347.00,270.70v4.40" stroke="#F2140F" stroke-width="1.1" fill="none"/>
<path d="M355.00,278.40v4.40M357.00,278.40v4.40M359.00,278.40v4.40M361.00,278.40v4.40M363.00,278.40v4.40" stroke="#F2140F" stroke-width="1.1" fill="none"/>
<path d="M382.80,281.60v4.40M383.90,281.60v4.40M386.40,281.60v4.40M388.20,281.60v4.40M389.70,281.60v4.40M391.90,281.60v4.40M393.40,281.60v4.40M395.50,281.60v4.40M397.70,281.60v4.40M402.10,281.60v4.40M403.60,281.60v4.40M405.80,281.60v4.40M407.20,281.60v4.40M410.90,281.60v4.40M412.00,281.60v4.40M416.40,281.60v4.40M424.00,281.60v4.40M430.00,281.60v4.40M438.00,281.60v4.40M442.00,281.60v4.40" stroke="#F2140F" stroke-width="1.1" fill="none"/>
<line x1="389.00" y1="348.40" x2="403.50" y2="348.40" stroke="#2B5194" stroke-width="2.3"/>
<line x1="396.25" y1="344.50" x2="396.25" y2="352.30" stroke="#2B5194" stroke-width="1.6"/>
<text transform="translate(407.80,351.32) scale(1,1.07)" font-size="7.8" text-anchor="start" fill="#000">Low Stb</text>
<line x1="389.00" y1="361.50" x2="403.50" y2="361.50" stroke="#F2140F" stroke-width="2.3"/>
<line x1="396.25" y1="357.60" x2="396.25" y2="365.40" stroke="#F2140F" stroke-width="1.6"/>
<text transform="translate(407.80,364.42) scale(1,1.07)" font-size="7.8" text-anchor="start" fill="#000">High Stb</text>
<text transform="translate(293.10,374.07) scale(1,1.07)" font-size="9.0"><tspan font-style="italic">p</tspan> = 0.029</text>
<text transform="translate(293.10,384.58) scale(1,1.07)" font-size="8.77" text-anchor="start" fill="#000">HR=3.76, 95%CI=1.05-13.49</text>
<text transform="translate(288.80,407.05) scale(1,1.07)" font-size="7.6" text-anchor="start" fill="#000">Number at risk</text>
<line x1="287.60" y1="408.50" x2="287.60" y2="434.55" stroke="#1a1a1a" stroke-width="1.3"/>
<line x1="286.95" y1="433.90" x2="449.50" y2="433.90" stroke="#1a1a1a" stroke-width="1.3"/>
<line x1="285.60" y1="415.30" x2="287.60" y2="415.30" stroke="#1a1a1a" stroke-width="0.9"/>
<text transform="translate(251.10,418.15) scale(1,1.07)" font-size="7.6" text-anchor="start" fill="#000">Low Stb</text>
<text transform="translate(295.50,417.43) scale(1,1.0)" font-size="7.8" text-anchor="middle" fill="#000">56</text>
<text transform="translate(332.15,417.43) scale(1,1.0)" font-size="7.8" text-anchor="middle" fill="#000">56</text>
<text transform="translate(368.80,417.43) scale(1,1.0)" font-size="7.8" text-anchor="middle" fill="#000">37</text>
<text transform="translate(405.45,417.43) scale(1,1.0)" font-size="7.8" text-anchor="middle" fill="#000">14</text>
<text transform="translate(442.10,417.43) scale(1,1.0)" font-size="7.8" text-anchor="middle" fill="#000">2</text>
<line x1="285.60" y1="427.30" x2="287.60" y2="427.30" stroke="#1a1a1a" stroke-width="0.9"/>
<text transform="translate(251.10,429.35) scale(1,1.07)" font-size="7.6" text-anchor="start" fill="#000">High Stb</text>
<text transform="translate(295.50,429.73) scale(1,1.0)" font-size="7.8" text-anchor="middle" fill="#000">63</text>
<text transform="translate(332.15,429.73) scale(1,1.0)" font-size="7.8" text-anchor="middle" fill="#000">60</text>
<text transform="translate(368.80,429.73) scale(1,1.0)" font-size="7.8" text-anchor="middle" fill="#000">31</text>
<text transform="translate(405.45,429.73) scale(1,1.0)" font-size="7.8" text-anchor="middle" fill="#000">16</text>
<text transform="translate(442.10,429.73) scale(1,1.0)" font-size="7.8" text-anchor="middle" fill="#000">2</text>
<line x1="294.80" y1="433.90" x2="294.80" y2="435.90" stroke="#1a1a1a" stroke-width="0.9"/>
<text transform="translate(294.80,443.43) scale(1,1.07)" font-size="7.3" text-anchor="middle" fill="#000">0</text>
<line x1="331.80" y1="433.90" x2="331.80" y2="435.90" stroke="#1a1a1a" stroke-width="0.9"/>
<text transform="translate(331.80,443.43) scale(1,1.07)" font-size="7.3" text-anchor="middle" fill="#000">10</text>
<line x1="368.80" y1="433.90" x2="368.80" y2="435.90" stroke="#1a1a1a" stroke-width="0.9"/>
<text transform="translate(368.80,443.43) scale(1,1.07)" font-size="7.3" text-anchor="middle" fill="#000">20</text>
<line x1="405.80" y1="433.90" x2="405.80" y2="435.90" stroke="#1a1a1a" stroke-width="0.9"/>
<text transform="translate(405.80,443.43) scale(1,1.07)" font-size="7.3" text-anchor="middle" fill="#000">30</text>
<line x1="442.80" y1="433.90" x2="442.80" y2="435.90" stroke="#1a1a1a" stroke-width="0.9"/>
<text transform="translate(442.80,443.43) scale(1,1.07)" font-size="7.3" text-anchor="middle" fill="#000">40</text>
<text transform="translate(370.70,454.02) scale(1,1.0)" font-size="11.2" text-anchor="middle" fill="#000">Time(months)</text>
<text transform="translate(483.60,255.53) scale(1,1.1)" font-size="15" text-anchor="start" font-weight="bold" fill="#000">F</text>
<line x1="519.90" y1="255.00" x2="519.90" y2="390.65" stroke="#1a1a1a" stroke-width="1.3"/>
<line x1="519.25" y1="390.00" x2="683.60" y2="390.00" stroke="#1a1a1a" stroke-width="1.3"/>
<line x1="517.90" y1="260.40" x2="519.90" y2="260.40" stroke="#1a1a1a" stroke-width="0.9"/>
<text transform="translate(515.30,263.33) scale(1,1.07)" font-size="7.3" text-anchor="end" fill="#000">100%</text>
<line x1="517.90" y1="291.20" x2="519.90" y2="291.20" stroke="#1a1a1a" stroke-width="0.9"/>
<text transform="translate(516.20,294.13) scale(1,1.07)" font-size="7.3" text-anchor="end" fill="#000">75%</text>
<line x1="517.90" y1="322.00" x2="519.90" y2="322.00" stroke="#1a1a1a" stroke-width="0.9"/>
<text transform="translate(516.20,324.93) scale(1,1.07)" font-size="7.3" text-anchor="end" fill="#000">50%</text>
<line x1="517.90" y1="352.80" x2="519.90" y2="352.80" stroke="#1a1a1a" stroke-width="0.9"/>
<text transform="translate(516.20,355.73) scale(1,1.07)" font-size="7.3" text-anchor="end" fill="#000">25%</text>
<line x1="517.90" y1="383.60" x2="519.90" y2="383.60" stroke="#1a1a1a" stroke-width="0.9"/>
<text transform="translate(517.40,386.53) scale(1,1.07)" font-size="7.3" text-anchor="end" fill="#000">0%</text>
<line x1="527.20" y1="390.00" x2="527.20" y2="392.00" stroke="#1a1a1a" stroke-width="0.9"/>
<text transform="translate(527.20,397.73) scale(1,1.07)" font-size="7.3" text-anchor="middle" fill="#000">0</text>
<line x1="564.30" y1="390.00" x2="564.30" y2="392.00" stroke="#1a1a1a" stroke-width="0.9"/>
<text transform="translate(564.30,397.73) scale(1,1.07)" font-size="7.3" text-anchor="middle" fill="#000">10</text>
<line x1="601.40" y1="390.00" x2="601.40" y2="392.00" stroke="#1a1a1a" stroke-width="0.9"/>
<text transform="translate(601.40,397.73) scale(1,1.07)" font-size="7.3" text-anchor="middle" fill="#000">20</text>
<line x1="638.50" y1="390.00" x2="638.50" y2="392.00" stroke="#1a1a1a" stroke-width="0.9"/>
<text transform="translate(638.50,397.73) scale(1,1.07)" font-size="7.3" text-anchor="middle" fill="#000">30</text>
<line x1="675.60" y1="390.00" x2="675.60" y2="392.00" stroke="#1a1a1a" stroke-width="0.9"/>
<text transform="translate(675.60,397.73) scale(1,1.07)" font-size="7.3" text-anchor="middle" fill="#000">40</text>
<text transform="translate(495.60,323.50) rotate(-90) scale(1,1.08)" x="0" y="3.78" font-size="10.8" text-anchor="middle" fill="#000">DRFS</text>
<path d="M528.20,259.60 H579.40 V262.40 H682.80" fill="none" stroke="#2B5194" stroke-width="1.3" stroke-linejoin="miter" stroke-linecap="butt"/>
<path d="M580.60,260.30v4.40M582.60,260.30v4.40M584.20,260.30v4.40M585.80,260.30v4.40M587.40,260.30v4.40M589.50,260.30v4.40M591.10,260.30v4.40M592.30,260.30v4.40M593.90,260.30v4.40M595.90,260.30v4.40M597.90,260.30v4.40M603.50,260.30v4.40M605.10,260.30v4.40M606.70,260.30v4.40M608.30,260.30v4.40M609.90,260.30v4.40M611.50,260.30v4.40M613.20,260.30v4.40M614.80,260.30v4.40M616.40,260.30v4.40M618.40,260.30v4.40M620.40,260.30v4.40M622.40,260.30v4.40M624.00,260.30v4.40M625.90,260.30v4.40M627.60,260.30v4.40M629.40,260.30v4.40M632.00,260.30v4.40M633.80,260.30v4.40M635.50,260.30v4.40M640.80,260.30v4.40M651.30,260.30v4.40M653.00,260.30v4.40M655.20,260.30v4.40M657.00,260.30v4.40M659.20,260.30v4.40M667.00,260.30v4.40M668.40,260.30v4.40M672.30,260.30v4.40" stroke="#2B5194" stroke-width="1.1" fill="none"/>
<path d="M528.20,259.60 H543.40 V261.30 H549.60 V263.70 H559.70 V265.70 H561.40 V267.60 H572.50 V268.30 H576.60 V270.50 H579.00 V272.90 H581.40 V275.30 H583.80 V277.70 H585.00 V280.60 H597.00 V283.00 H599.50 V284.40 H605.60 V287.00 H682.50" fill="none" stroke="#F2140F" stroke-width="1.3" stroke-linejoin="miter" stroke-linecap="butt"/>
<path d="M570.00,265.40v4.40M574.00,265.40v4.40" stroke="#F2140F" stroke-width="1.1" fill="none"/>
<path d="M578.00,268.30v4.40" stroke="#F2140F" stroke-width="1.1" fill="none"/>
<path d="M580.00,270.70v4.40" stroke="#F2140F" stroke-width="1.1" fill="none"/>
<path d="M587.00,278.40v4.40M589.00,278.40v4.40M591.00,278.40v4.40M593.00,278.40v4.40M595.00,278.40v4.40M598.00,278.40v4.40" stroke="#F2140F" stroke-width="1.1" fill="none"/>
<path d="M616.70,284.80v4.40M618.40,284.80v4.40M620.50,284.80v4.40M622.30,284.80v4.40M624.20,284.80v4.40M626.10,284.80v4.40M627.90,284.80v4.40M629.80,284.80v4.40M631.60,284.80v4.40M637.20,284.80v4.40M641.60,284.80v4.40M643.40,284.80v4.40M645.30,284.80v4.40M647.10,284.80v4.40M652.70,284.80v4.40M661.40,284.80v4.40M663.90,284.80v4.40M666.40,284.80v4.40M672.00,284.80v4.40M674.40,284.80v4.40M677.50,284.80v4.40" stroke="#F2140F" stroke-width="1.1" fill="none"/>
<line x1="620.40" y1="348.40" x2="635.70" y2="348.40" stroke="#2B5194" stroke-width="2.3"/>
<line x1="628.05" y1="344.50" x2="628.05" y2="352.30" stroke="#2B5194" stroke-width="1.6"/>
<text transform="translate(640.00,351.32) scale(1,1.07)" font-size="7.8" text-anchor="start" fill="#000">Low Stb</text>
<line x1="620.40" y1="361.90" x2="635.70" y2="361.90" stroke="#F2140F" stroke-width="2.3"/>
<line x1="628.05" y1="358.00" x2="628.05" y2="365.80" stroke="#F2140F" stroke-width="1.6"/>
<text transform="translate(640.00,364.82) scale(1,1.07)" font-size="7.8" text-anchor="start" fill="#000">High Stb</text>
<text transform="translate(526.60,373.67) scale(1,1.07)" font-size="9.0"><tspan font-style="italic">p</tspan> = 0.004</text>
<text transform="translate(526.00,385.01) scale(1,1.07)" font-size="8.85" text-anchor="start" fill="#000">HR=11.05, 95%CI=1.43-85.63</text>
<text transform="translate(520.80,406.55) scale(1,1.07)" font-size="7.6" text-anchor="start" fill="#000">Number at risk</text>
<line x1="519.90" y1="408.50" x2="519.90" y2="434.35" stroke="#1a1a1a" stroke-width="1.3"/>
<line x1="519.25" y1="433.70" x2="683.60" y2="433.70" stroke="#1a1a1a" stroke-width="1.3"/>
<line x1="517.90" y1="415.30" x2="519.90" y2="415.30" stroke="#1a1a1a" stroke-width="0.9"/>
<text transform="translate(484.50,419.25) scale(1,1.07)" font-size="7.6" text-anchor="start" fill="#000">Low Stb</text>
<text transform="translate(527.05,416.93) scale(1,1.0)" font-size="7.8" text-anchor="middle" fill="#000">56</text>
<text transform="translate(564.05,416.93) scale(1,1.0)" font-size="7.8" text-anchor="middle" fill="#000">56</text>
<text transform="translate(601.05,416.93) scale(1,1.0)" font-size="7.8" text-anchor="middle" fill="#000">38</text>
<text transform="translate(638.05,416.93) scale(1,1.0)" font-size="7.8" text-anchor="middle" fill="#000">14</text>
<text transform="translate(675.05,416.93) scale(1,1.0)" font-size="7.8" text-anchor="middle" fill="#000">2</text>
<line x1="517.90" y1="427.30" x2="519.90" y2="427.30" stroke="#1a1a1a" stroke-width="0.9"/>
<text transform="translate(484.50,430.45) scale(1,1.07)" font-size="7.6" text-anchor="start" fill="#000">High Stb</text>
<text transform="translate(527.05,429.73) scale(1,1.0)" font-size="7.8" text-anchor="middle" fill="#000">63</text>
<text transform="translate(564.05,429.73) scale(1,1.0)" font-size="7.8" text-anchor="middle" fill="#000">60</text>
<text transform="translate(601.05,429.73) scale(1,1.0)" font-size="7.8" text-anchor="middle" fill="#000">32</text>
<text transform="translate(638.05,429.73) scale(1,1.0)" font-size="7.8" text-anchor="middle" fill="#000">16</text>
<text transform="translate(675.05,429.73) scale(1,1.0)" font-size="7.8" text-anchor="middle" fill="#000">2</text>
<line x1="527.20" y1="433.70" x2="527.20" y2="435.70" stroke="#1a1a1a" stroke-width="0.9"/>
<text transform="translate(527.20,443.53) scale(1,1.07)" font-size="7.3" text-anchor="middle" fill="#000">0</text>
<line x1="564.30" y1="433.70" x2="564.30" y2="435.70" stroke="#1a1a1a" stroke-width="0.9"/>
<text transform="translate(564.30,443.53) scale(1,1.07)" font-size="7.3" text-anchor="middle" fill="#000">10</text>
<line x1="601.40" y1="433.70" x2="601.40" y2="435.70" stroke="#1a1a1a" stroke-width="0.9"/>
<text transform="translate(601.40,443.53) scale(1,1.07)" font-size="7.3" text-anchor="middle" fill="#000">20</text>
<line x1="638.50" y1="433.70" x2="638.50" y2="435.70" stroke="#1a1a1a" stroke-width="0.9"/>
<text transform="translate(638.50,443.53) scale(1,1.07)" font-size="7.3" text-anchor="middle" fill="#000">30</text>
<line x1="675.60" y1="433.70" x2="675.60" y2="435.70" stroke="#1a1a1a" stroke-width="0.9"/>
<text transform="translate(675.60,443.53) scale(1,1.07)" font-size="7.3" text-anchor="middle" fill="#000">40</text>
<text transform="translate(602.40,453.52) scale(1,1.0)" font-size="11.2" text-anchor="middle" fill="#000">Time(months)</text>
<text transform="translate(11.90,528.07) scale(1,1.1)" font-size="15" text-anchor="start" font-weight="bold" fill="#000">G</text>
<line x1="83.50" y1="525.40" x2="83.50" y2="724.90" stroke="#1a1a1a" stroke-width="1.2"/>
<line x1="82.90" y1="724.30" x2="324.20" y2="724.30" stroke="#1a1a1a" stroke-width="1.2"/>
<line x1="81.10" y1="534.50" x2="83.50" y2="534.50" stroke="#1a1a1a" stroke-width="0.9"/>
<text transform="translate(77.30,537.72) scale(1,1.07)" font-size="9.4" text-anchor="end" fill="#000">100%</text>
<line x1="81.10" y1="579.80" x2="83.50" y2="579.80" stroke="#1a1a1a" stroke-width="0.9"/>
<text transform="translate(77.30,581.42) scale(1,1.07)" font-size="9.4" text-anchor="end" fill="#000">75%</text>
<line x1="81.10" y1="625.10" x2="83.50" y2="625.10" stroke="#1a1a1a" stroke-width="0.9"/>
<text transform="translate(77.30,627.22) scale(1,1.07)" font-size="9.4" text-anchor="end" fill="#000">50%</text>
<line x1="81.10" y1="670.40" x2="83.50" y2="670.40" stroke="#1a1a1a" stroke-width="0.9"/>
<text transform="translate(77.30,673.92) scale(1,1.07)" font-size="9.4" text-anchor="end" fill="#000">25%</text>
<line x1="81.10" y1="715.70" x2="83.50" y2="715.70" stroke="#1a1a1a" stroke-width="0.9"/>
<text transform="translate(77.30,718.92) scale(1,1.07)" font-size="9.4" text-anchor="end" fill="#000">0%</text>
<line x1="94.00" y1="724.30" x2="94.00" y2="726.70" stroke="#1a1a1a" stroke-width="0.8"/>
<text transform="translate(94.00,737.62) scale(1,1.07)" font-size="9.4" text-anchor="middle" fill="#000">0</text>
<line x1="148.95" y1="724.30" x2="148.95" y2="726.70" stroke="#1a1a1a" stroke-width="0.8"/>
<text transform="translate(148.95,737.62) scale(1,1.07)" font-size="9.4" text-anchor="middle" fill="#000">10</text>
<line x1="203.90" y1="724.30" x2="203.90" y2="726.70" stroke="#1a1a1a" stroke-width="0.8"/>
<text transform="translate(203.90,737.62) scale(1,1.07)" font-size="9.4" text-anchor="middle" fill="#000">20</text>
<line x1="258.85" y1="724.30" x2="258.85" y2="726.70" stroke="#1a1a1a" stroke-width="0.8"/>
<text transform="translate(258.85,737.62) scale(1,1.07)" font-size="9.4" text-anchor="middle" fill="#000">30</text>
<line x1="313.80" y1="724.30" x2="313.80" y2="726.70" stroke="#1a1a1a" stroke-width="0.8"/>
<text transform="translate(313.80,737.62) scale(1,1.07)" font-size="9.4" text-anchor="middle" fill="#000">40</text>
<text transform="translate(45.90,624.60) rotate(-90) scale(1,1.07)" x="0" y="4.66" font-size="13.3" text-anchor="middle" fill="#000">EFS</text>
<path d="M94.90,533.70 H322.40" fill="none" stroke="#5BC74A" stroke-width="2.2" stroke-linejoin="miter" stroke-linecap="butt"/>
<path d="M172.30,531.90v5.3" stroke="#5BC74A" stroke-width="1.1"/>
<path d="M179.90,531.90v5.3" stroke="#5BC74A" stroke-width="1.1"/>
<path d="M187.50,531.90v5.3" stroke="#5BC74A" stroke-width="1.1"/>
<path d="M193.20,531.90v5.3" stroke="#5BC74A" stroke-width="1.1"/>
<path d="M198.90,531.90v5.3" stroke="#5BC74A" stroke-width="1.1"/>
<path d="M206.50,531.90v5.3" stroke="#5BC74A" stroke-width="1.1"/>
<path d="M212.30,531.90v5.3" stroke="#5BC74A" stroke-width="1.1"/>
<path d="M219.00,531.90v5.3" stroke="#5BC74A" stroke-width="1.1"/>
<path d="M224.30,531.90v5.3" stroke="#5BC74A" stroke-width="1.1"/>
<path d="M227.50,531.90v5.3" stroke="#5BC74A" stroke-width="1.1"/>
<path d="M235.10,531.90v5.3" stroke="#5BC74A" stroke-width="1.1"/>
<path d="M243.70,531.90v5.3" stroke="#5BC74A" stroke-width="1.1"/>
<path d="M254.10,531.90v5.3" stroke="#5BC74A" stroke-width="1.1"/>
<path d="M282.60,531.90v5.3" stroke="#5BC74A" stroke-width="1.1"/>
<path d="M306.30,531.90v5.3" stroke="#5BC74A" stroke-width="1.1"/>
<path d="M94.90,533.70 H170.80 V538.60 H199.80 V545.60 H262.60 V564.60 H308.20" fill="none" stroke="#24428C" stroke-width="2.2" stroke-linejoin="miter" stroke-linecap="butt"/>
<path d="M174.20,536.80v5.3" stroke="#24428C" stroke-width="1.1"/>
<path d="M180.00,536.80v5.3" stroke="#24428C" stroke-width="1.1"/>
<path d="M184.00,536.80v5.3" stroke="#24428C" stroke-width="1.1"/>
<path d="M188.00,536.80v5.3" stroke="#24428C" stroke-width="1.1"/>
<path d="M192.00,536.80v5.3" stroke="#24428C" stroke-width="1.1"/>
<path d="M196.00,536.80v5.3" stroke="#24428C" stroke-width="1.1"/>
<path d="M199.00,536.80v5.3" stroke="#24428C" stroke-width="1.1"/>
<path d="M203.80,543.80v5.3" stroke="#24428C" stroke-width="1.1"/>
<path d="M208.50,543.80v5.3" stroke="#24428C" stroke-width="1.1"/>
<path d="M214.20,543.80v5.3" stroke="#24428C" stroke-width="1.1"/>
<path d="M220.90,543.80v5.3" stroke="#24428C" stroke-width="1.1"/>
<path d="M226.60,543.80v5.3" stroke="#24428C" stroke-width="1.1"/>
<path d="M233.20,543.80v5.3" stroke="#24428C" stroke-width="1.1"/>
<path d="M238.90,543.80v5.3" stroke="#24428C" stroke-width="1.1"/>
<path d="M245.50,543.80v5.3" stroke="#24428C" stroke-width="1.1"/>
<path d="M251.20,543.80v5.3" stroke="#24428C" stroke-width="1.1"/>
<path d="M263.60,562.80v5.3" stroke="#24428C" stroke-width="1.1"/>
<path d="M275.90,562.80v5.3" stroke="#24428C" stroke-width="1.1"/>
<path d="M281.60,562.80v5.3" stroke="#24428C" stroke-width="1.1"/>
<path d="M287.30,562.80v5.3" stroke="#24428C" stroke-width="1.1"/>
<path d="M293.00,562.80v5.3" stroke="#24428C" stroke-width="1.1"/>
<path d="M298.70,562.80v5.3" stroke="#24428C" stroke-width="1.1"/>
<path d="M303.40,562.80v5.3" stroke="#24428C" stroke-width="1.1"/>
<path d="M307.20,562.80v5.3" stroke="#24428C" stroke-width="1.1"/>
<path d="M94.90,533.70 H160.00 V542.40 H322.40" fill="none" stroke="#46A7B6" stroke-width="2.2" stroke-linejoin="miter" stroke-linecap="butt"/>
<path d="M167.60,540.60v5.3" stroke="#46A7B6" stroke-width="1.1"/>
<path d="M187.50,540.60v5.3" stroke="#46A7B6" stroke-width="1.1"/>
<path d="M193.20,540.60v5.3" stroke="#46A7B6" stroke-width="1.1"/>
<path d="M201.00,540.60v5.3" stroke="#46A7B6" stroke-width="1.1"/>
<path d="M203.00,540.60v5.3" stroke="#46A7B6" stroke-width="1.1"/>
<path d="M230.40,540.60v5.3" stroke="#46A7B6" stroke-width="1.1"/>
<path d="M234.20,540.60v5.3" stroke="#46A7B6" stroke-width="1.1"/>
<path d="M238.00,540.60v5.3" stroke="#46A7B6" stroke-width="1.1"/>
<path d="M245.50,540.60v5.3" stroke="#46A7B6" stroke-width="1.1"/>
<path d="M253.10,540.60v5.3" stroke="#46A7B6" stroke-width="1.1"/>
<path d="M267.40,540.60v5.3" stroke="#46A7B6" stroke-width="1.1"/>
<path d="M270.20,540.60v5.3" stroke="#46A7B6" stroke-width="1.1"/>
<path d="M296.80,540.60v5.3" stroke="#46A7B6" stroke-width="1.1"/>
<path d="M313.00,540.60v5.3" stroke="#46A7B6" stroke-width="1.1"/>
<path d="M94.90,533.70 H118.80 V538.00 H141.60 V541.80 H144.80 V546.20 H166.60 V550.40 H169.50 V559.90 H175.10 V562.70 H177.00 V565.50 H179.00 V575.00 H198.90 V581.90 H309.10" fill="none" stroke="#F2140F" stroke-width="2.2" stroke-linejoin="miter" stroke-linecap="butt"/>
<path d="M162.80,544.40v5.3" stroke="#F2140F" stroke-width="1.1"/>
<path d="M165.50,544.40v5.3" stroke="#F2140F" stroke-width="1.1"/>
<path d="M174.20,558.10v5.3" stroke="#F2140F" stroke-width="1.1"/>
<path d="M176.00,560.90v5.3" stroke="#F2140F" stroke-width="1.1"/>
<path d="M178.00,563.70v5.3" stroke="#F2140F" stroke-width="1.1"/>
<path d="M182.00,573.20v5.3" stroke="#F2140F" stroke-width="1.1"/>
<path d="M185.00,573.20v5.3" stroke="#F2140F" stroke-width="1.1"/>
<path d="M188.00,573.20v5.3" stroke="#F2140F" stroke-width="1.1"/>
<path d="M191.00,573.20v5.3" stroke="#F2140F" stroke-width="1.1"/>
<path d="M194.00,573.20v5.3" stroke="#F2140F" stroke-width="1.1"/>
<path d="M197.00,573.20v5.3" stroke="#F2140F" stroke-width="1.1"/>
<path d="M225.60,580.10v5.3" stroke="#F2140F" stroke-width="1.1"/>
<path d="M231.30,580.10v5.3" stroke="#F2140F" stroke-width="1.1"/>
<path d="M234.20,580.10v5.3" stroke="#F2140F" stroke-width="1.1"/>
<path d="M238.00,580.10v5.3" stroke="#F2140F" stroke-width="1.1"/>
<path d="M242.70,580.10v5.3" stroke="#F2140F" stroke-width="1.1"/>
<path d="M248.40,580.10v5.3" stroke="#F2140F" stroke-width="1.1"/>
<path d="M251.20,580.10v5.3" stroke="#F2140F" stroke-width="1.1"/>
<path d="M255.00,580.10v5.3" stroke="#F2140F" stroke-width="1.1"/>
<path d="M258.80,580.10v5.3" stroke="#F2140F" stroke-width="1.1"/>
<path d="M261.70,580.10v5.3" stroke="#F2140F" stroke-width="1.1"/>
<path d="M265.50,580.10v5.3" stroke="#F2140F" stroke-width="1.1"/>
<path d="M269.30,580.10v5.3" stroke="#F2140F" stroke-width="1.1"/>
<path d="M273.10,580.10v5.3" stroke="#F2140F" stroke-width="1.1"/>
<path d="M276.90,580.10v5.3" stroke="#F2140F" stroke-width="1.1"/>
<path d="M290.10,580.10v5.3" stroke="#F2140F" stroke-width="1.1"/>
<path d="M294.90,580.10v5.3" stroke="#F2140F" stroke-width="1.1"/>
<path d="M297.70,580.10v5.3" stroke="#F2140F" stroke-width="1.1"/>
<path d="M302.50,580.10v5.3" stroke="#F2140F" stroke-width="1.1"/>
<path d="M307.20,580.10v5.3" stroke="#F2140F" stroke-width="1.1"/>
<line x1="228.10" y1="648.90" x2="243.80" y2="648.90" stroke="#5BC74A" stroke-width="2.4"/>
<line x1="235.95" y1="644.70" x2="235.95" y2="653.10" stroke="#5BC74A" stroke-width="1.6"/>
<text transform="translate(247.30,649.98) scale(1,1.07)" font-size="7.7" text-anchor="start" fill="#000">Low Stb&amp;pCR</text>
<line x1="228.10" y1="660.60" x2="243.80" y2="660.60" stroke="#24428C" stroke-width="2.4"/>
<line x1="235.95" y1="656.40" x2="235.95" y2="664.80" stroke="#24428C" stroke-width="1.6"/>
<text transform="translate(247.30,663.78) scale(1,1.07)" font-size="7.7" text-anchor="start" fill="#000">Low Stb&amp;non-pCR</text>
<line x1="228.10" y1="673.60" x2="243.80" y2="673.60" stroke="#46A7B6" stroke-width="2.4"/>
<line x1="235.95" y1="669.40" x2="235.95" y2="677.80" stroke="#46A7B6" stroke-width="1.6"/>
<text transform="translate(247.30,676.68) scale(1,1.07)" font-size="7.7" text-anchor="start" fill="#000">High Stb&amp;pCR</text>
<line x1="228.10" y1="685.60" x2="243.80" y2="685.60" stroke="#F2140F" stroke-width="2.4"/>
<line x1="235.95" y1="681.40" x2="235.95" y2="689.80" stroke="#F2140F" stroke-width="1.6"/>
<text transform="translate(247.30,688.98) scale(1,1.07)" font-size="7.7" text-anchor="start" fill="#000">High Stb&amp;non-pCR</text>
<text x="97.60" y="695.25" font-size="11.0"><tspan font-style="italic">p</tspan>=0.012</text>
<text transform="translate(80.70,752.45) scale(1,1.0)" font-size="11" text-anchor="start" fill="#000">Number at risk</text>
<line x1="83.50" y1="759.40" x2="83.50" y2="814.10" stroke="#1a1a1a" stroke-width="1.2"/>
<line x1="82.90" y1="813.50" x2="324.20" y2="813.50" stroke="#1a1a1a" stroke-width="1.2"/>
<line x1="81.10" y1="766.30" x2="83.50" y2="766.30" stroke="#1a1a1a" stroke-width="0.9"/>
<text transform="translate(75.70,769.44) scale(1,1.07)" font-size="7.85" text-anchor="end" fill="#000">Low Stb&amp;pCR</text>
<text transform="translate(93.70,770.09) scale(1,0.94)" font-size="9.4" text-anchor="middle" fill="#000">19</text>
<text transform="translate(148.65,770.09) scale(1,0.94)" font-size="9.4" text-anchor="middle" fill="#000">19</text>
<text transform="translate(203.60,770.09) scale(1,0.94)" font-size="9.4" text-anchor="middle" fill="#000">13</text>
<text transform="translate(258.55,770.09) scale(1,0.94)" font-size="9.4" text-anchor="middle" fill="#000">4</text>
<text transform="translate(313.50,770.09) scale(1,0.94)" font-size="9.4" text-anchor="middle" fill="#000">2</text>
<line x1="81.10" y1="779.50" x2="83.50" y2="779.50" stroke="#1a1a1a" stroke-width="0.9"/>
<text transform="translate(75.70,783.14) scale(1,1.07)" font-size="7.85" text-anchor="end" fill="#000">Low Stb&amp;non-pCR</text>
<text transform="translate(93.70,782.89) scale(1,0.94)" font-size="9.4" text-anchor="middle" fill="#000">37</text>
<text transform="translate(148.65,782.89) scale(1,0.94)" font-size="9.4" text-anchor="middle" fill="#000">37</text>
<text transform="translate(203.60,782.89) scale(1,0.94)" font-size="9.4" text-anchor="middle" fill="#000">24</text>
<text transform="translate(258.55,782.89) scale(1,0.94)" font-size="9.4" text-anchor="middle" fill="#000">10</text>
<text transform="translate(313.50,782.89) scale(1,0.94)" font-size="9.4" text-anchor="middle" fill="#000">0</text>
<line x1="81.10" y1="792.60" x2="83.50" y2="792.60" stroke="#1a1a1a" stroke-width="0.9"/>
<text transform="translate(75.70,796.34) scale(1,1.07)" font-size="7.85" text-anchor="end" fill="#000">High Stb&amp;pCR</text>
<text transform="translate(93.70,796.09) scale(1,0.94)" font-size="9.4" text-anchor="middle" fill="#000">21</text>
<text transform="translate(148.65,796.09) scale(1,0.94)" font-size="9.4" text-anchor="middle" fill="#000">21</text>
<text transform="translate(203.60,796.09) scale(1,0.94)" font-size="9.4" text-anchor="middle" fill="#000">13</text>
<text transform="translate(258.55,796.09) scale(1,0.94)" font-size="9.4" text-anchor="middle" fill="#000">7</text>
<text transform="translate(313.50,796.09) scale(1,0.94)" font-size="9.4" text-anchor="middle" fill="#000">2</text>
<line x1="81.10" y1="805.40" x2="83.50" y2="805.40" stroke="#1a1a1a" stroke-width="0.9"/>
<text transform="translate(75.70,808.54) scale(1,1.07)" font-size="7.85" text-anchor="end" fill="#000">High Stb&amp;non-pCR</text>
<text transform="translate(93.70,808.79) scale(1,0.94)" font-size="9.4" text-anchor="middle" fill="#000">42</text>
<text transform="translate(148.65,808.79) scale(1,0.94)" font-size="9.4" text-anchor="middle" fill="#000">39</text>
<text transform="translate(203.60,808.79) scale(1,0.94)" font-size="9.4" text-anchor="middle" fill="#000">18</text>
<text transform="translate(258.55,808.79) scale(1,0.94)" font-size="9.4" text-anchor="middle" fill="#000">9</text>
<text transform="translate(313.50,808.79) scale(1,0.94)" font-size="9.4" text-anchor="middle" fill="#000">0</text>
<line x1="94.00" y1="813.50" x2="94.00" y2="815.90" stroke="#1a1a1a" stroke-width="0.8"/>
<text transform="translate(94.00,826.32) scale(1,1.07)" font-size="9.4" text-anchor="middle" fill="#000">0</text>
<line x1="148.95" y1="813.50" x2="148.95" y2="815.90" stroke="#1a1a1a" stroke-width="0.8"/>
<text transform="translate(148.95,826.32) scale(1,1.07)" font-size="9.4" text-anchor="middle" fill="#000">10</text>
<line x1="203.90" y1="813.50" x2="203.90" y2="815.90" stroke="#1a1a1a" stroke-width="0.8"/>
<text transform="translate(203.90,826.32) scale(1,1.07)" font-size="9.4" text-anchor="middle" fill="#000">20</text>
<line x1="258.85" y1="813.50" x2="258.85" y2="815.90" stroke="#1a1a1a" stroke-width="0.8"/>
<text transform="translate(258.85,826.32) scale(1,1.07)" font-size="9.4" text-anchor="middle" fill="#000">30</text>
<line x1="313.80" y1="813.50" x2="313.80" y2="815.90" stroke="#1a1a1a" stroke-width="0.8"/>
<text transform="translate(313.80,826.32) scale(1,1.07)" font-size="9.4" text-anchor="middle" fill="#000">40</text>
<text transform="translate(201.00,842.49) scale(1,1.0)" font-size="13.1" text-anchor="middle" fill="#000">Time(months)</text>
<text transform="translate(340.00,528.27) scale(1,1.1)" font-size="15" text-anchor="start" font-weight="bold" fill="#000">H</text>
<line x1="412.90" y1="525.10" x2="412.90" y2="724.40" stroke="#1a1a1a" stroke-width="1.2"/>
<line x1="412.30" y1="723.80" x2="653.70" y2="723.80" stroke="#1a1a1a" stroke-width="1.2"/>
<line x1="410.50" y1="534.20" x2="412.90" y2="534.20" stroke="#1a1a1a" stroke-width="0.9"/>
<text transform="translate(407.20,537.42) scale(1,1.07)" font-size="9.4" text-anchor="end" fill="#000">100%</text>
<line x1="410.50" y1="579.35" x2="412.90" y2="579.35" stroke="#1a1a1a" stroke-width="0.9"/>
<text transform="translate(407.20,580.97) scale(1,1.07)" font-size="9.4" text-anchor="end" fill="#000">75%</text>
<line x1="410.50" y1="624.50" x2="412.90" y2="624.50" stroke="#1a1a1a" stroke-width="0.9"/>
<text transform="translate(407.20,626.62) scale(1,1.07)" font-size="9.4" text-anchor="end" fill="#000">50%</text>
<line x1="410.50" y1="669.65" x2="412.90" y2="669.65" stroke="#1a1a1a" stroke-width="0.9"/>
<text transform="translate(407.20,673.17) scale(1,1.07)" font-size="9.4" text-anchor="end" fill="#000">25%</text>
<line x1="410.50" y1="714.80" x2="412.90" y2="714.80" stroke="#1a1a1a" stroke-width="0.9"/>
<text transform="translate(407.20,718.02) scale(1,1.07)" font-size="9.4" text-anchor="end" fill="#000">0%</text>
<line x1="423.70" y1="723.80" x2="423.70" y2="726.20" stroke="#1a1a1a" stroke-width="0.8"/>
<text transform="translate(423.70,737.12) scale(1,1.07)" font-size="9.4" text-anchor="middle" fill="#000">0</text>
<line x1="478.60" y1="723.80" x2="478.60" y2="726.20" stroke="#1a1a1a" stroke-width="0.8"/>
<text transform="translate(478.60,737.12) scale(1,1.07)" font-size="9.4" text-anchor="middle" fill="#000">10</text>
<line x1="533.50" y1="723.80" x2="533.50" y2="726.20" stroke="#1a1a1a" stroke-width="0.8"/>
<text transform="translate(533.50,737.12) scale(1,1.07)" font-size="9.4" text-anchor="middle" fill="#000">20</text>
<line x1="588.40" y1="723.80" x2="588.40" y2="726.20" stroke="#1a1a1a" stroke-width="0.8"/>
<text transform="translate(588.40,737.12) scale(1,1.07)" font-size="9.4" text-anchor="middle" fill="#000">30</text>
<line x1="643.30" y1="723.80" x2="643.30" y2="726.20" stroke="#1a1a1a" stroke-width="0.8"/>
<text transform="translate(643.30,737.12) scale(1,1.07)" font-size="9.4" text-anchor="middle" fill="#000">40</text>
<text transform="translate(376.40,624.50) rotate(-90) scale(1,1.08)" x="0" y="3.78" font-size="10.8" text-anchor="middle" fill="#000">DRFS</text>
<path d="M424.60,534.40 H652.20" fill="none" stroke="#5BC74A" stroke-width="2.2" stroke-linejoin="miter" stroke-linecap="butt"/>
<path d="M503.00,532.60v5.3" stroke="#5BC74A" stroke-width="1.1"/>
<path d="M507.00,532.60v5.3" stroke="#5BC74A" stroke-width="1.1"/>
<path d="M511.00,532.60v5.3" stroke="#5BC74A" stroke-width="1.1"/>
<path d="M516.00,532.60v5.3" stroke="#5BC74A" stroke-width="1.1"/>
<path d="M521.00,532.60v5.3" stroke="#5BC74A" stroke-width="1.1"/>
<path d="M526.00,532.60v5.3" stroke="#5BC74A" stroke-width="1.1"/>
<path d="M531.00,532.60v5.3" stroke="#5BC74A" stroke-width="1.1"/>
<path d="M536.00,532.60v5.3" stroke="#5BC74A" stroke-width="1.1"/>
<path d="M541.10,532.60v5.3" stroke="#5BC74A" stroke-width="1.1"/>
<path d="M548.50,532.60v5.3" stroke="#5BC74A" stroke-width="1.1"/>
<path d="M553.80,532.60v5.3" stroke="#5BC74A" stroke-width="1.1"/>
<path d="M556.90,532.60v5.3" stroke="#5BC74A" stroke-width="1.1"/>
<path d="M564.30,532.60v5.3" stroke="#5BC74A" stroke-width="1.1"/>
<path d="M572.80,532.60v5.3" stroke="#5BC74A" stroke-width="1.1"/>
<path d="M582.30,532.60v5.3" stroke="#5BC74A" stroke-width="1.1"/>
<path d="M613.00,532.60v5.3" stroke="#5BC74A" stroke-width="1.1"/>
<path d="M635.30,532.60v5.3" stroke="#5BC74A" stroke-width="1.1"/>
<path d="M424.60,534.40 H500.20 V540.10 H637.80" fill="none" stroke="#24428C" stroke-width="2.2" stroke-linejoin="miter" stroke-linecap="butt"/>
<path d="M504.00,538.30v5.3" stroke="#24428C" stroke-width="1.1"/>
<path d="M508.00,538.30v5.3" stroke="#24428C" stroke-width="1.1"/>
<path d="M512.00,538.30v5.3" stroke="#24428C" stroke-width="1.1"/>
<path d="M515.00,538.30v5.3" stroke="#24428C" stroke-width="1.1"/>
<path d="M518.00,538.30v5.3" stroke="#24428C" stroke-width="1.1"/>
<path d="M522.00,538.30v5.3" stroke="#24428C" stroke-width="1.1"/>
<path d="M526.00,538.30v5.3" stroke="#24428C" stroke-width="1.1"/>
<path d="M531.00,538.30v5.3" stroke="#24428C" stroke-width="1.1"/>
<path d="M536.00,538.30v5.3" stroke="#24428C" stroke-width="1.1"/>
<path d="M542.10,538.30v5.3" stroke="#24428C" stroke-width="1.1"/>
<path d="M548.50,538.30v5.3" stroke="#24428C" stroke-width="1.1"/>
<path d="M554.80,538.30v5.3" stroke="#24428C" stroke-width="1.1"/>
<path d="M561.20,538.30v5.3" stroke="#24428C" stroke-width="1.1"/>
<path d="M568.60,538.30v5.3" stroke="#24428C" stroke-width="1.1"/>
<path d="M574.90,538.30v5.3" stroke="#24428C" stroke-width="1.1"/>
<path d="M581.30,538.30v5.3" stroke="#24428C" stroke-width="1.1"/>
<path d="M591.90,538.30v5.3" stroke="#24428C" stroke-width="1.1"/>
<path d="M606.70,538.30v5.3" stroke="#24428C" stroke-width="1.1"/>
<path d="M613.00,538.30v5.3" stroke="#24428C" stroke-width="1.1"/>
<path d="M617.30,538.30v5.3" stroke="#24428C" stroke-width="1.1"/>
<path d="M622.60,538.30v5.3" stroke="#24428C" stroke-width="1.1"/>
<path d="M631.00,538.30v5.3" stroke="#24428C" stroke-width="1.1"/>
<path d="M636.30,538.30v5.3" stroke="#24428C" stroke-width="1.1"/>
<path d="M424.60,534.40 H539.20 V547.20 H652.20" fill="none" stroke="#46A7B6" stroke-width="2.2" stroke-linejoin="miter" stroke-linecap="butt"/>
<path d="M497.60,532.60v5.3" stroke="#46A7B6" stroke-width="1.1"/>
<path d="M560.10,545.40v5.3" stroke="#46A7B6" stroke-width="1.1"/>
<path d="M565.40,545.40v5.3" stroke="#46A7B6" stroke-width="1.1"/>
<path d="M571.80,545.40v5.3" stroke="#46A7B6" stroke-width="1.1"/>
<path d="M577.00,545.40v5.3" stroke="#46A7B6" stroke-width="1.1"/>
<path d="M587.60,545.40v5.3" stroke="#46A7B6" stroke-width="1.1"/>
<path d="M592.90,545.40v5.3" stroke="#46A7B6" stroke-width="1.1"/>
<path d="M597.20,545.40v5.3" stroke="#46A7B6" stroke-width="1.1"/>
<path d="M600.30,545.40v5.3" stroke="#46A7B6" stroke-width="1.1"/>
<path d="M625.70,545.40v5.3" stroke="#46A7B6" stroke-width="1.1"/>
<path d="M641.60,545.40v5.3" stroke="#46A7B6" stroke-width="1.1"/>
<path d="M424.60,534.40 H448.50 V538.60 H471.30 V541.90 H473.90 V547.20 H495.40 V551.70 H498.70 V560.50 H505.30 V564.90 H507.40 V569.30 H509.60 V575.20 H528.20 V582.80 H638.40" fill="none" stroke="#F2140F" stroke-width="2.2" stroke-linejoin="miter" stroke-linecap="butt"/>
<path d="M492.10,545.40v5.3" stroke="#F2140F" stroke-width="1.1"/>
<path d="M503.00,558.70v5.3" stroke="#F2140F" stroke-width="1.1"/>
<path d="M506.30,563.10v5.3" stroke="#F2140F" stroke-width="1.1"/>
<path d="M512.00,573.40v5.3" stroke="#F2140F" stroke-width="1.1"/>
<path d="M515.00,573.40v5.3" stroke="#F2140F" stroke-width="1.1"/>
<path d="M518.00,573.40v5.3" stroke="#F2140F" stroke-width="1.1"/>
<path d="M521.00,573.40v5.3" stroke="#F2140F" stroke-width="1.1"/>
<path d="M524.00,573.40v5.3" stroke="#F2140F" stroke-width="1.1"/>
<path d="M526.00,573.40v5.3" stroke="#F2140F" stroke-width="1.1"/>
<path d="M555.90,581.00v5.3" stroke="#F2140F" stroke-width="1.1"/>
<path d="M561.20,581.00v5.3" stroke="#F2140F" stroke-width="1.1"/>
<path d="M567.50,581.00v5.3" stroke="#F2140F" stroke-width="1.1"/>
<path d="M572.80,581.00v5.3" stroke="#F2140F" stroke-width="1.1"/>
<path d="M578.10,581.00v5.3" stroke="#F2140F" stroke-width="1.1"/>
<path d="M584.50,581.00v5.3" stroke="#F2140F" stroke-width="1.1"/>
<path d="M588.70,581.00v5.3" stroke="#F2140F" stroke-width="1.1"/>
<path d="M594.00,581.00v5.3" stroke="#F2140F" stroke-width="1.1"/>
<path d="M599.30,581.00v5.3" stroke="#F2140F" stroke-width="1.1"/>
<path d="M606.70,581.00v5.3" stroke="#F2140F" stroke-width="1.1"/>
<path d="M620.40,581.00v5.3" stroke="#F2140F" stroke-width="1.1"/>
<path d="M626.80,581.00v5.3" stroke="#F2140F" stroke-width="1.1"/>
<path d="M636.30,581.00v5.3" stroke="#F2140F" stroke-width="1.1"/>
<line x1="562.00" y1="648.90" x2="577.00" y2="648.90" stroke="#5BC74A" stroke-width="2.4"/>
<line x1="569.50" y1="644.70" x2="569.50" y2="653.10" stroke="#5BC74A" stroke-width="1.6"/>
<text transform="translate(581.00,649.08) scale(1,1.07)" font-size="7.7" text-anchor="start" fill="#000">Low Stb&amp;pCR</text>
<line x1="562.00" y1="660.60" x2="577.00" y2="660.60" stroke="#24428C" stroke-width="2.4"/>
<line x1="569.50" y1="656.40" x2="569.50" y2="664.80" stroke="#24428C" stroke-width="1.6"/>
<text transform="translate(581.00,663.38) scale(1,1.07)" font-size="7.7" text-anchor="start" fill="#000">Low Stb&amp;non-pCR</text>
<line x1="562.00" y1="673.60" x2="577.00" y2="673.60" stroke="#46A7B6" stroke-width="2.4"/>
<line x1="569.50" y1="669.40" x2="569.50" y2="677.80" stroke="#46A7B6" stroke-width="1.6"/>
<text transform="translate(581.00,676.28) scale(1,1.07)" font-size="7.7" text-anchor="start" fill="#000">High Stb&amp;pCR</text>
<line x1="562.00" y1="685.60" x2="577.00" y2="685.60" stroke="#F2140F" stroke-width="2.4"/>
<line x1="569.50" y1="681.40" x2="569.50" y2="689.80" stroke="#F2140F" stroke-width="1.6"/>
<text transform="translate(581.00,688.58) scale(1,1.07)" font-size="7.7" text-anchor="start" fill="#000">High Stb&amp;non-pCR</text>
<text x="429.00" y="696.75" font-size="11.0"><tspan font-style="italic">p</tspan>=0.002</text>
<text transform="translate(410.20,752.05) scale(1,1.0)" font-size="11" text-anchor="start" fill="#000">Number at risk</text>
<line x1="412.90" y1="758.60" x2="412.90" y2="813.80" stroke="#1a1a1a" stroke-width="1.2"/>
<line x1="412.30" y1="813.20" x2="653.70" y2="813.20" stroke="#1a1a1a" stroke-width="1.2"/>
<line x1="410.50" y1="766.10" x2="412.90" y2="766.10" stroke="#1a1a1a" stroke-width="0.9"/>
<text transform="translate(406.40,769.74) scale(1,1.07)" font-size="7.85" text-anchor="end" fill="#000">Low Stb&amp;pCR</text>
<text transform="translate(423.20,769.09) scale(1,0.94)" font-size="9.4" text-anchor="middle" fill="#000">19</text>
<text transform="translate(478.10,769.09) scale(1,0.94)" font-size="9.4" text-anchor="middle" fill="#000">19</text>
<text transform="translate(533.00,769.09) scale(1,0.94)" font-size="9.4" text-anchor="middle" fill="#000">13</text>
<text transform="translate(587.90,769.09) scale(1,0.94)" font-size="9.4" text-anchor="middle" fill="#000">4</text>
<text transform="translate(642.80,769.09) scale(1,0.94)" font-size="9.4" text-anchor="middle" fill="#000">2</text>
<line x1="410.50" y1="779.50" x2="412.90" y2="779.50" stroke="#1a1a1a" stroke-width="0.9"/>
<text transform="translate(406.40,783.44) scale(1,1.07)" font-size="7.85" text-anchor="end" fill="#000">Low Stb&amp;non-pCR</text>
<text transform="translate(423.20,781.99) scale(1,0.94)" font-size="9.4" text-anchor="middle" fill="#000">37</text>
<text transform="translate(478.10,781.99) scale(1,0.94)" font-size="9.4" text-anchor="middle" fill="#000">37</text>
<text transform="translate(533.00,781.99) scale(1,0.94)" font-size="9.4" text-anchor="middle" fill="#000">25</text>
<text transform="translate(587.90,781.99) scale(1,0.94)" font-size="9.4" text-anchor="middle" fill="#000">10</text>
<text transform="translate(642.80,781.99) scale(1,0.94)" font-size="9.4" text-anchor="middle" fill="#000">0</text>
<line x1="410.50" y1="792.40" x2="412.90" y2="792.40" stroke="#1a1a1a" stroke-width="0.9"/>
<text transform="translate(406.40,796.54) scale(1,1.07)" font-size="7.85" text-anchor="end" fill="#000">High Stb&amp;pCR</text>
<text transform="translate(423.20,794.89) scale(1,0.94)" font-size="9.4" text-anchor="middle" fill="#000">21</text>
<text transform="translate(478.10,794.89) scale(1,0.94)" font-size="9.4" text-anchor="middle" fill="#000">21</text>
<text transform="translate(533.00,794.89) scale(1,0.94)" font-size="9.4" text-anchor="middle" fill="#000">14</text>
<text transform="translate(587.90,794.89) scale(1,0.94)" font-size="9.4" text-anchor="middle" fill="#000">7</text>
<text transform="translate(642.80,794.89) scale(1,0.94)" font-size="9.4" text-anchor="middle" fill="#000">2</text>
<line x1="410.50" y1="805.40" x2="412.90" y2="805.40" stroke="#1a1a1a" stroke-width="0.9"/>
<text transform="translate(406.40,809.14) scale(1,1.07)" font-size="7.85" text-anchor="end" fill="#000">High Stb&amp;non-pCR</text>
<text transform="translate(423.20,808.09) scale(1,0.94)" font-size="9.4" text-anchor="middle" fill="#000">42</text>
<text transform="translate(478.10,808.09) scale(1,0.94)" font-size="9.4" text-anchor="middle" fill="#000">39</text>
<text transform="translate(533.00,808.09) scale(1,0.94)" font-size="9.4" text-anchor="middle" fill="#000">18</text>
<text transform="translate(587.90,808.09) scale(1,0.94)" font-size="9.4" text-anchor="middle" fill="#000">9</text>
<text transform="translate(642.80,808.09) scale(1,0.94)" font-size="9.4" text-anchor="middle" fill="#000">0</text>
<line x1="423.70" y1="813.20" x2="423.70" y2="815.60" stroke="#1a1a1a" stroke-width="0.8"/>
<text transform="translate(423.70,825.82) scale(1,1.07)" font-size="9.4" text-anchor="middle" fill="#000">0</text>
<line x1="478.60" y1="813.20" x2="478.60" y2="815.60" stroke="#1a1a1a" stroke-width="0.8"/>
<text transform="translate(478.60,825.82) scale(1,1.07)" font-size="9.4" text-anchor="middle" fill="#000">10</text>
<line x1="533.50" y1="813.20" x2="533.50" y2="815.60" stroke="#1a1a1a" stroke-width="0.8"/>
<text transform="translate(533.50,825.82) scale(1,1.07)" font-size="9.4" text-anchor="middle" fill="#000">20</text>
<line x1="588.40" y1="813.20" x2="588.40" y2="815.60" stroke="#1a1a1a" stroke-width="0.8"/>
<text transform="translate(588.40,825.82) scale(1,1.07)" font-size="9.4" text-anchor="middle" fill="#000">30</text>
<line x1="643.30" y1="813.20" x2="643.30" y2="815.60" stroke="#1a1a1a" stroke-width="0.8"/>
<text transform="translate(643.30,825.82) scale(1,1.07)" font-size="9.4" text-anchor="middle" fill="#000">40</text>
<text transform="translate(530.40,842.49) scale(1,1.0)" font-size="13.1" text-anchor="middle" fill="#000">Time(months)</text>
</svg></body></html>
